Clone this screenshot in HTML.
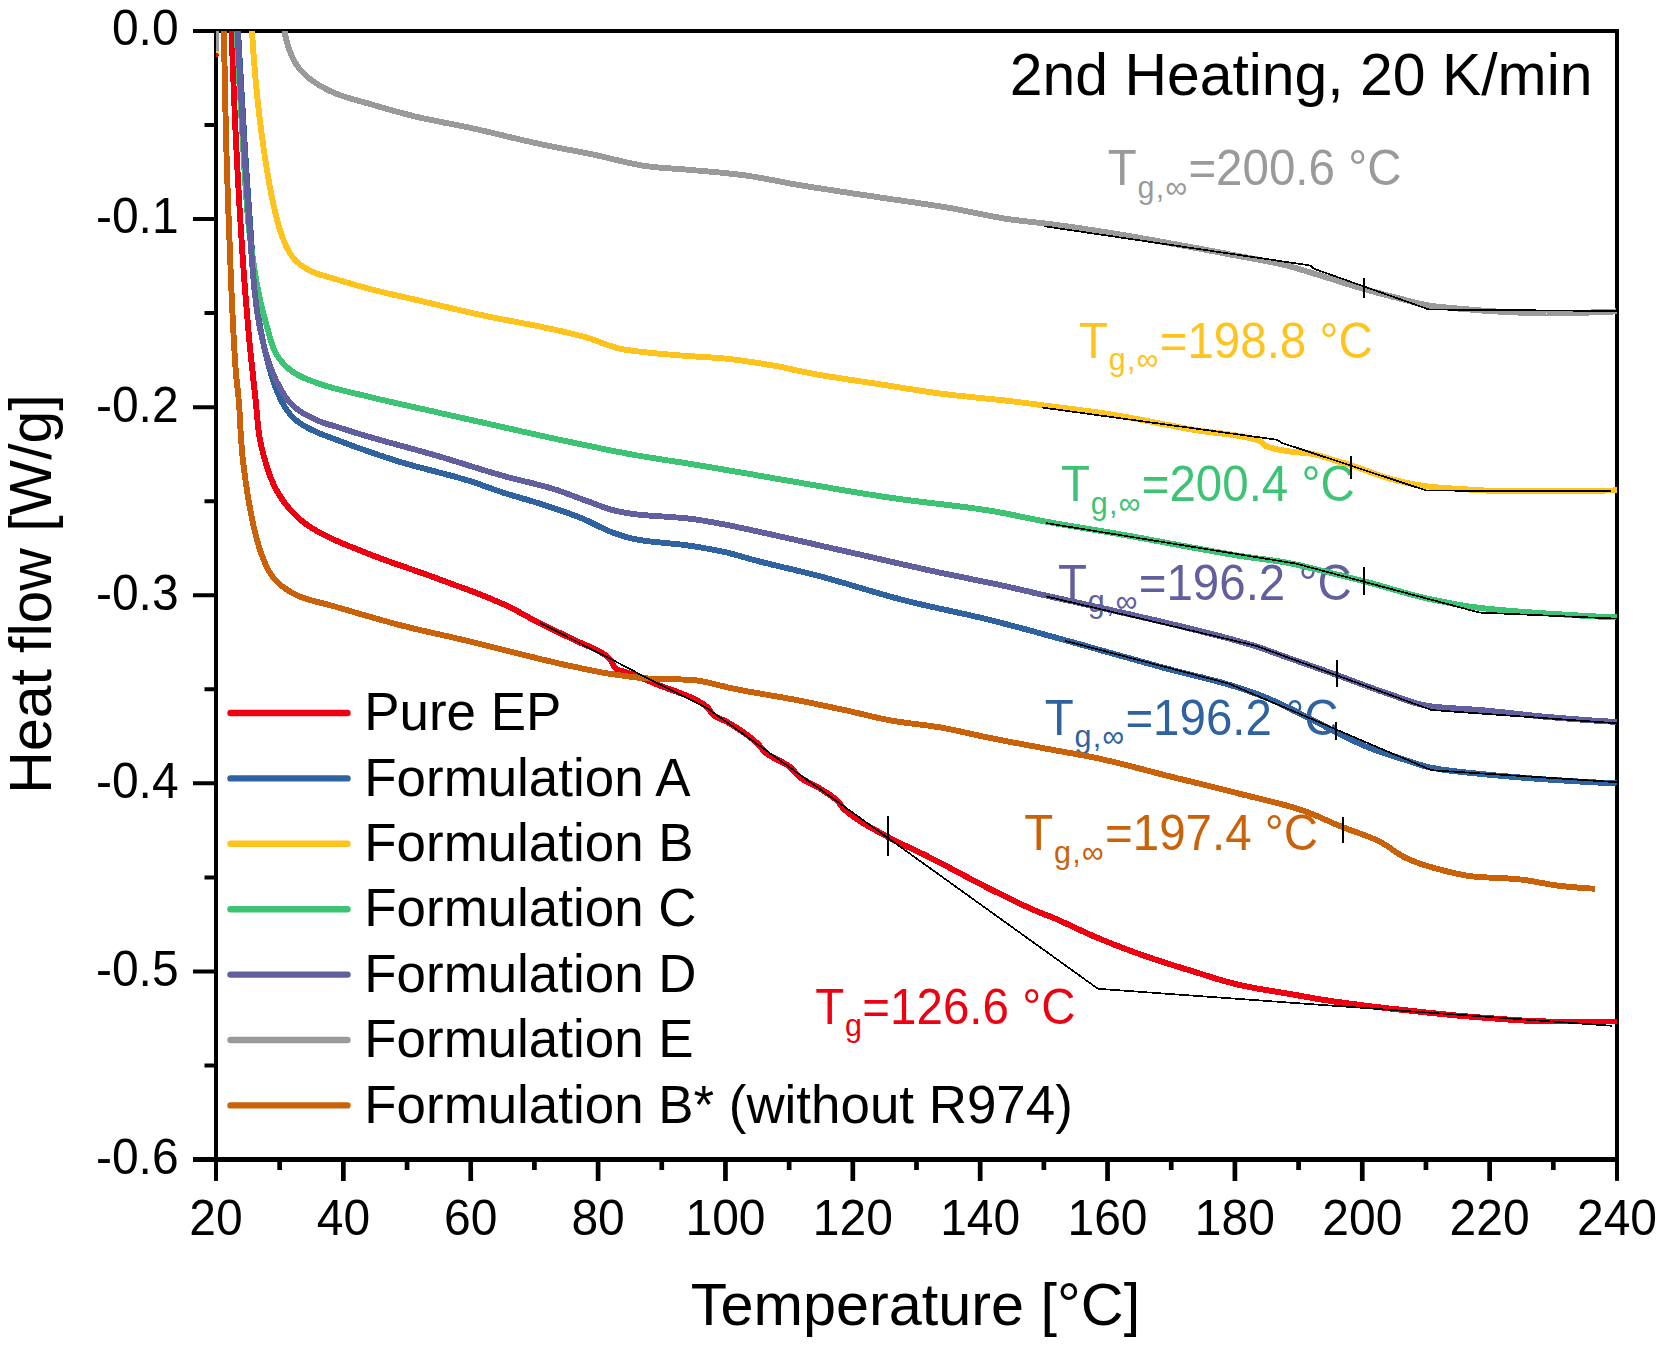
<!DOCTYPE html>
<html lang="en"><head><meta charset="utf-8"><title>DSC 2nd Heating</title>
<style>html,body{margin:0;padding:0;background:#fff}svg{display:block}text{font-family:"Liberation Sans",sans-serif;fill:#000}</style></head><body>
<svg width="1663" height="1354" viewBox="0 0 1663 1354">
<rect width="1663" height="1354" fill="#fff"/>
<defs><clipPath id="plot"><rect x="216.0" y="31.0" width="1401.0" height="1128.5"/></clipPath></defs>
<text transform="translate(1107.7,185.4) scale(1,1.035)" font-size="47.5" style="fill:#9a9a9a">T<tspan font-size="30.5" dy="12" dx="0.8">g</tspan><tspan font-size="30.5" dx="1.3">,</tspan><tspan font-size="30.5" dx="1.2">∞</tspan><tspan dy="-12" dx="1.2">=200.6 °C</tspan></text>
<text transform="translate(1079.0,357.7) scale(1,1.035)" font-size="47.5" style="fill:#ffc31d">T<tspan font-size="30.5" dy="12" dx="0.8">g</tspan><tspan font-size="30.5" dx="1.3">,</tspan><tspan font-size="30.5" dx="1.2">∞</tspan><tspan dy="-12" dx="1.2">=198.8 °C</tspan></text>
<text transform="translate(1061.0,501.3) scale(1,1.035)" font-size="47.5" style="fill:#3cc373">T<tspan font-size="30.5" dy="12" dx="0.8">g</tspan><tspan font-size="30.5" dx="1.3">,</tspan><tspan font-size="30.5" dx="1.2">∞</tspan><tspan dy="-12" dx="1.2">=200.4 °C</tspan></text>
<text transform="translate(1058.0,599.9) scale(1,1.035)" font-size="47.5" style="fill:#625f9e">T<tspan font-size="30.5" dy="12" dx="0.8">g</tspan><tspan font-size="30.5" dx="1.3">,</tspan><tspan font-size="30.5" dx="1.2">∞</tspan><tspan dy="-12" dx="1.2">=196.2 °C</tspan></text>
<text transform="translate(1044.7,735.0) scale(1,1.035)" font-size="47.5" style="fill:#2f639f">T<tspan font-size="30.5" dy="12" dx="0.8">g</tspan><tspan font-size="30.5" dx="1.3">,</tspan><tspan font-size="30.5" dx="1.2">∞</tspan><tspan dy="-12" dx="1.2">=196.2 °C</tspan></text>
<text transform="translate(1024.3,850.2) scale(1,1.035)" font-size="47.5" style="fill:#c96208">T<tspan font-size="30.5" dy="12" dx="0.8">g</tspan><tspan font-size="30.5" dx="1.3">,</tspan><tspan font-size="30.5" dx="1.2">∞</tspan><tspan dy="-12" dx="1.2">=197.4 °C</tspan></text>
<text transform="translate(815.2,1024.0) scale(1,1.035)" font-size="47.5" style="fill:#ee0010">T<tspan font-size="30.5" dy="12" dx="0.8">g</tspan><tspan dy="-12" dx="0.4">=126.6 °C</tspan></text>
<g stroke="#000" stroke-width="4" fill="none" stroke-linecap="butt">
<rect x="216.0" y="31.0" width="1401.0" height="1128.5"/>
<path d="M216.0,31.00 h-23.0 M216.0,125.04 h-11.5 M216.0,219.08 h-23.0 M216.0,313.12 h-11.5 M216.0,407.17 h-23.0 M216.0,501.21 h-11.5 M216.0,595.25 h-23.0 M216.0,689.29 h-11.5 M216.0,783.33 h-23.0 M216.0,877.38 h-11.5 M216.0,971.42 h-23.0 M216.0,1065.46 h-11.5 M216.0,1159.50 h-23.0"/>
<path d="M216.00,1159.5 v21.4"/>
<path d="M1617.00,1159.5 v21.4"/>
<path d="M279.68,1159.5 v10.4 M343.36,1159.5 v21.4 M407.05,1159.5 v10.4 M470.73,1159.5 v21.4 M534.41,1159.5 v10.4 M598.09,1159.5 v21.4 M661.77,1159.5 v10.4 M725.45,1159.5 v21.4 M789.14,1159.5 v10.4 M852.82,1159.5 v21.4 M916.50,1159.5 v10.4 M980.18,1159.5 v21.4 M1043.86,1159.5 v10.4 M1107.55,1159.5 v21.4 M1171.23,1159.5 v10.4 M1234.91,1159.5 v21.4 M1298.59,1159.5 v10.4 M1362.27,1159.5 v21.4 M1425.95,1159.5 v10.4 M1489.64,1159.5 v21.4 M1553.32,1159.5 v10.4" stroke-width="4.7"/>
<path d="M193.0,1159.45 H1619.0" stroke-width="4.9"/>
</g>
<g clip-path="url(#plot)" shape-rendering="crispEdges" fill="none" stroke-width="5.9" stroke-linejoin="round" stroke-linecap="butt">
<path d="M216.6,28 V52" stroke="#9a9a9a" stroke-width="5"/>
<path d="M217.3,50.5 V54" stroke="#ffc31d" stroke-width="3"/>
<path d="M216.4,53.5 L218,56.5" stroke="#ee0010" stroke-width="3"/>
<path d="M231.6,31.0 L231.7,33.0 L231.7,35.0 L231.8,37.0 L231.9,39.0 L231.9,41.0 L232.0,43.0 L232.1,45.0 L232.1,47.0 L232.2,49.0 L232.3,51.0 L232.3,53.0 L232.4,55.0 L232.5,57.0 L232.5,59.0 L232.6,61.0 L232.7,63.0 L232.8,65.1 L232.8,67.1 L232.9,69.1 L233.0,71.1 L233.1,73.1 L233.1,75.1 L233.2,77.1 L233.3,79.1 L233.4,81.1 L233.5,83.1 L233.5,85.1 L233.6,87.1 L233.7,89.1 L233.8,91.1 L233.9,93.1 L234.0,95.1 L234.0,97.1 L234.1,99.1 L234.2,101.1 L234.3,103.1 L234.4,105.1 L234.5,107.1 L234.5,109.1 L234.6,111.1 L234.7,113.1 L234.8,115.1 L234.9,117.1 L235.0,119.1 L235.1,121.1 L235.2,123.1 L235.3,125.1 L235.4,127.1 L235.4,129.1 L235.5,131.1 L235.6,133.1 L235.7,135.1 L235.8,137.1 L235.9,139.1 L236.0,141.1 L236.1,143.1 L236.2,145.1 L236.3,147.1 L236.4,149.1 L236.5,151.1 L236.6,153.1 L236.7,155.1 L236.8,157.1 L236.9,159.2 L237.0,161.2 L237.1,163.2 L237.2,165.2 L237.3,167.2 L237.4,169.2 L237.5,171.2 L237.6,173.2 L237.7,175.2 L237.8,177.2 L237.9,179.2 L238.1,181.2 L238.2,183.2 L238.3,185.2 L238.4,187.2 L238.5,189.2 L238.6,191.2 L238.7,193.2 L238.8,195.2 L239.0,197.2 L239.1,199.2 L239.2,201.2 L239.3,203.2 L239.4,205.2 L239.5,207.2 L239.7,209.2 L239.8,211.2 L239.9,213.2 L240.0,215.2 L240.1,217.2 L240.3,219.2 L240.4,221.2 L240.5,223.2 L240.6,225.2 L240.8,227.2 L240.9,229.2 L241.0,231.2 L241.1,233.2 L241.3,235.2 L241.4,237.2 L241.5,239.2 L241.7,241.2 L241.8,243.2 L241.9,245.2 L242.0,247.2 L242.2,249.2 L242.3,251.2 L242.4,253.2 L242.6,255.2 L242.7,257.2 L242.9,259.2 L243.0,261.2 L243.1,263.2 L243.3,265.2 L243.4,267.2 L243.5,269.2 L243.7,271.2 L243.8,273.2 L244.0,275.2 L244.1,277.2 L244.3,279.2 L244.4,281.2 L244.6,283.2 L244.7,285.2 L244.9,287.2 L245.0,289.2 L245.2,291.2 L245.3,293.2 L245.5,295.2 L245.7,297.2 L245.8,299.2 L246.0,301.2 L246.1,303.2 L246.3,305.1 L246.5,307.1 L246.6,309.1 L246.8,311.1 L247.0,313.1 L247.1,315.1 L247.3,317.1 L247.5,319.1 L247.6,321.1 L247.8,323.1 L248.0,325.1 L248.2,327.1 L248.3,329.1 L248.5,331.1 L248.7,333.1 L248.9,335.1 L249.0,337.1 L249.2,339.1 L249.4,341.1 L249.6,343.1 L249.8,345.1 L250.0,347.1 L250.2,349.1 L250.4,351.1 L250.6,353.1 L250.8,355.0 L251.0,357.0 L251.2,359.0 L251.4,361.0 L251.6,363.0 L251.8,365.0 L252.0,367.0 L252.2,369.0 L252.5,371.0 L252.7,373.0 L252.9,375.0 L253.1,377.0 L253.3,379.0 L253.5,381.0 L253.8,382.9 L254.0,384.9 L254.2,386.9 L254.4,388.9 L254.6,390.9 L254.8,392.9 L255.1,394.9 L255.3,396.9 L255.5,398.9 L255.7,400.9 L255.9,402.9 L256.1,404.9 L256.3,406.9 L256.5,408.9 L256.6,410.9 L256.8,412.9 L257.0,414.9 L257.2,416.9 L257.4,418.9 L257.5,420.9 L257.7,422.9 L257.9,424.9 L258.1,426.8 L258.4,428.8 L258.6,430.8 L258.9,432.8 L259.2,434.8 L259.5,436.7 L259.8,438.7 L260.2,440.7 L260.6,442.7 L261.0,444.6 L261.4,446.6 L261.9,448.5 L262.3,450.5 L262.8,452.5 L263.3,454.4 L263.9,456.4 L264.4,458.3 L265.0,460.2 L265.5,462.1 L266.1,464.1 L266.7,466.0 L267.3,467.9 L267.9,469.8 L268.5,471.7 L269.2,473.6 L269.9,475.5 L270.6,477.4 L271.4,479.2 L272.2,481.1 L273.0,483.0 L273.8,484.8 L274.7,486.6 L275.6,488.4 L276.5,490.1 L277.5,491.8 L278.4,493.5 L279.5,495.2 L280.5,496.9 L281.7,498.6 L282.8,500.3 L284.0,501.9 L285.2,503.6 L286.5,505.2 L287.8,506.8 L289.1,508.4 L290.4,509.9 L291.8,511.4 L293.1,512.9 L294.5,514.3 L295.9,515.7 L297.3,517.0 L298.8,518.4 L300.3,519.6 L301.8,520.9 L303.4,522.1 L305.0,523.3 L306.7,524.5 L308.3,525.7 L310.0,526.8 L311.7,527.9 L313.5,529.0 L315.2,530.0 L316.9,531.0 L318.7,532.0 L320.4,532.9 L322.1,533.9 L323.9,534.8 L325.7,535.7 L327.5,536.6 L329.2,537.4 L331.1,538.3 L332.9,539.1 L334.7,540.0 L336.5,540.8 L338.4,541.6 L340.2,542.4 L342.1,543.2 L343.9,544.0 L345.8,544.7 L347.7,545.5 L349.5,546.3 L351.4,547.0 L353.3,547.8 L355.1,548.5 L357.0,549.3 L358.9,550.0 L360.8,550.7 L362.6,551.5 L364.5,552.2 L366.4,552.9 L368.2,553.7 L370.1,554.4 L371.9,555.2 L373.8,555.9 L375.7,556.6 L377.6,557.3 L379.4,558.0 L381.3,558.7 L383.2,559.4 L385.1,560.1 L387.0,560.8 L388.8,561.4 L390.7,562.1 L392.6,562.8 L394.5,563.4 L396.4,564.1 L398.3,564.8 L400.2,565.4 L402.1,566.1 L404.0,566.8 L405.9,567.4 L407.8,568.1 L409.7,568.7 L411.6,569.4 L413.5,570.0 L415.3,570.7 L417.2,571.4 L419.1,572.0 L421.0,572.7 L422.9,573.4 L424.8,574.0 L426.7,574.7 L428.6,575.4 L430.5,576.1 L432.3,576.8 L434.2,577.5 L436.1,578.1 L438.0,578.8 L439.9,579.5 L441.7,580.2 L443.6,580.9 L445.5,581.6 L447.4,582.3 L449.3,583.0 L451.2,583.7 L453.1,584.4 L454.9,585.1 L456.8,585.7 L458.7,586.4 L460.6,587.1 L462.5,587.8 L464.4,588.5 L466.3,589.2 L468.1,589.9 L470.0,590.6 L471.9,591.3 L473.8,592.0 L475.7,592.7 L477.5,593.5 L479.4,594.2 L481.3,594.9 L483.1,595.6 L485.0,596.4 L486.8,597.1 L488.7,597.9 L490.6,598.6 L492.4,599.4 L494.2,600.2 L496.1,601.0 L497.9,601.7 L499.7,602.5 L501.6,603.4 L503.4,604.2 L505.2,605.0 L507.0,605.9 L508.8,606.7 L510.6,607.6 L512.4,608.5 L514.2,609.5 L515.9,610.4 L517.7,611.3 L519.5,612.3 L521.2,613.2 L523.0,614.2 L524.8,615.2 L526.5,616.1 L528.3,617.1 L530.0,618.1 L531.8,619.0 L533.6,620.0 L535.4,620.9 L537.1,621.8 L538.9,622.7 L540.7,623.7 L542.5,624.5 L544.3,625.4 L546.1,626.3 L547.9,627.2 L549.7,628.1 L551.5,628.9 L553.3,629.8 L555.1,630.7 L556.9,631.6 L558.7,632.4 L560.5,633.3 L562.3,634.2 L564.1,635.1 L565.9,635.9 L567.7,636.8 L569.5,637.7 L571.3,638.6 L573.1,639.5 L575.0,640.4 L576.9,641.2 L578.8,642.1 L580.7,642.9 L582.7,643.7 L584.6,644.5 L586.6,645.4 L588.5,646.2 L590.4,647.1 L592.3,647.9 L594.2,648.8 L596.1,649.7 L597.9,650.6 L599.6,651.6 L601.3,652.6 L603.0,653.6 L604.6,654.6 L606.1,655.8 L607.5,656.9 L608.9,658.1 L610.2,659.4 L611.3,660.9 L612.3,662.8 L613.2,664.8 L614.2,666.7 L615.3,668.1 L616.7,669.1 L618.4,669.9 L620.3,670.6 L622.3,671.2 L624.3,671.8 L626.4,672.4 L628.3,673.0 L630.2,673.8 L632.1,674.5 L633.9,675.2 L635.8,675.9 L637.7,676.6 L639.6,677.3 L641.4,678.1 L643.3,678.8 L645.2,679.6 L647.0,680.3 L648.9,681.0 L650.7,681.8 L652.6,682.6 L654.4,683.3 L656.3,684.1 L658.2,684.9 L660.1,685.6 L662.0,686.3 L663.9,687.1 L665.9,687.8 L667.8,688.5 L669.8,689.2 L671.8,689.9 L673.7,690.6 L675.7,691.3 L677.7,692.1 L679.6,692.8 L681.6,693.5 L683.5,694.3 L685.4,695.0 L687.3,695.8 L689.2,696.6 L691.1,697.4 L692.9,698.3 L694.7,699.2 L696.4,700.1 L698.1,701.0 L699.8,702.0 L701.4,702.9 L703.0,704.0 L704.5,705.1 L706.0,706.2 L707.4,707.3 L708.7,708.7 L709.8,710.4 L710.9,712.2 L712.1,713.9 L713.5,715.2 L715.0,716.3 L716.7,717.2 L718.6,718.1 L720.4,718.9 L722.4,719.7 L724.3,720.5 L726.1,721.4 L727.8,722.4 L729.6,723.4 L731.3,724.5 L733.0,725.5 L734.7,726.6 L736.4,727.6 L738.1,728.7 L739.8,729.9 L741.5,731.0 L743.2,732.1 L744.8,733.3 L746.5,734.5 L748.1,735.7 L749.7,736.9 L751.2,738.1 L752.8,739.4 L754.3,740.7 L755.8,742.0 L757.3,743.3 L758.7,744.7 L760.0,746.2 L761.3,747.8 L762.5,749.4 L763.8,751.0 L765.2,752.3 L766.7,753.6 L768.3,754.7 L770.0,755.8 L771.7,756.8 L773.5,757.7 L775.3,758.7 L777.1,759.6 L779.0,760.5 L780.8,761.4 L782.6,762.3 L784.4,763.3 L786.2,764.3 L787.8,765.4 L789.4,766.5 L790.9,767.8 L792.3,769.2 L793.7,770.7 L795.0,772.3 L796.3,773.8 L797.7,775.3 L799.2,776.6 L800.7,777.8 L802.3,778.9 L804.0,780.0 L805.8,780.9 L807.5,781.9 L809.3,782.8 L811.2,783.7 L813.0,784.6 L814.8,785.5 L816.6,786.5 L818.3,787.5 L820.0,788.5 L821.7,789.6 L823.4,790.7 L825.2,791.8 L826.9,792.9 L828.6,794.0 L830.2,795.1 L831.9,796.3 L833.5,797.5 L835.0,798.8 L836.5,800.1 L837.9,801.4 L839.2,802.9 L840.4,804.6 L841.5,806.3 L842.8,807.8 L844.2,809.1 L845.6,810.5 L847.1,811.7 L848.6,813.0 L850.1,814.2 L851.7,815.4 L853.3,816.6 L854.9,817.8 L856.5,818.9 L858.2,820.0 L859.9,821.1 L861.6,822.2 L863.4,823.3 L865.1,824.3 L866.9,825.3 L868.6,826.4 L870.4,827.4 L872.2,828.4 L874.0,829.4 L875.8,830.3 L877.6,831.3 L879.4,832.3 L881.2,833.3 L883.0,834.2 L884.7,835.2 L886.5,836.2 L888.2,837.1 L890.0,838.1 L891.7,839.0 L893.5,840.0 L895.3,840.9 L897.1,841.8 L898.9,842.7 L900.7,843.5 L902.5,844.4 L904.3,845.3 L906.1,846.1 L907.9,847.0 L909.7,847.8 L911.6,848.7 L913.4,849.5 L915.2,850.4 L917.0,851.2 L918.8,852.1 L920.6,853.0 L922.5,853.8 L924.3,854.7 L926.1,855.6 L927.9,856.5 L929.6,857.4 L931.4,858.3 L933.2,859.2 L935.0,860.1 L936.8,861.0 L938.6,862.0 L940.3,862.9 L942.1,863.8 L943.9,864.8 L945.7,865.7 L947.4,866.6 L949.2,867.6 L951.0,868.5 L952.7,869.5 L954.5,870.4 L956.3,871.3 L958.0,872.3 L959.8,873.2 L961.6,874.2 L963.3,875.1 L965.1,876.1 L966.9,877.0 L968.7,877.9 L970.4,878.9 L972.2,879.8 L974.0,880.7 L975.8,881.7 L977.5,882.6 L979.3,883.5 L981.1,884.4 L982.9,885.4 L984.7,886.3 L986.4,887.2 L988.2,888.1 L990.0,889.0 L991.8,889.9 L993.6,890.8 L995.4,891.7 L997.2,892.5 L999.0,893.4 L1000.8,894.3 L1002.6,895.2 L1004.4,896.1 L1006.2,897.0 L1008.0,897.9 L1009.8,898.8 L1011.6,899.7 L1013.4,900.5 L1015.2,901.4 L1017.0,902.3 L1018.8,903.2 L1020.6,904.0 L1022.4,904.9 L1024.2,905.7 L1026.1,906.5 L1027.9,907.4 L1029.7,908.2 L1031.5,909.0 L1033.4,909.8 L1035.2,910.6 L1037.1,911.4 L1038.9,912.2 L1040.8,912.9 L1042.6,913.6 L1044.5,914.4 L1046.4,915.1 L1048.2,915.8 L1050.1,916.5 L1052.0,917.3 L1053.8,918.0 L1055.7,918.8 L1057.5,919.6 L1059.3,920.4 L1061.2,921.3 L1063.0,922.1 L1064.8,922.9 L1066.6,923.8 L1068.4,924.6 L1070.3,925.5 L1072.1,926.3 L1073.9,927.2 L1075.7,928.0 L1077.5,928.9 L1079.3,929.7 L1081.2,930.6 L1083.0,931.4 L1084.8,932.3 L1086.6,933.1 L1088.4,933.9 L1090.3,934.7 L1092.1,935.6 L1093.9,936.3 L1095.8,937.1 L1097.6,937.9 L1099.5,938.7 L1101.3,939.4 L1103.2,940.2 L1105.0,940.9 L1106.9,941.7 L1108.8,942.4 L1110.6,943.2 L1112.5,943.9 L1114.4,944.7 L1116.2,945.4 L1118.1,946.1 L1120.0,946.8 L1121.8,947.6 L1123.7,948.3 L1125.6,949.0 L1127.5,949.7 L1129.3,950.4 L1131.2,951.1 L1133.1,951.8 L1135.0,952.5 L1136.9,953.2 L1138.8,953.8 L1140.6,954.5 L1142.5,955.2 L1144.4,955.8 L1146.3,956.5 L1148.2,957.1 L1150.1,957.8 L1152.0,958.4 L1153.9,959.1 L1155.8,959.7 L1157.7,960.3 L1159.6,961.0 L1161.5,961.6 L1163.4,962.2 L1165.3,962.8 L1167.2,963.4 L1169.1,964.0 L1171.1,964.6 L1173.0,965.2 L1174.9,965.8 L1176.8,966.4 L1178.7,967.0 L1180.6,967.6 L1182.5,968.2 L1184.5,968.8 L1186.4,969.4 L1188.3,969.9 L1190.2,970.5 L1192.1,971.1 L1194.0,971.7 L1196.0,972.3 L1197.9,972.9 L1199.8,973.5 L1201.7,974.1 L1203.6,974.7 L1205.5,975.3 L1207.5,975.9 L1209.4,976.5 L1211.3,977.1 L1213.2,977.7 L1215.1,978.3 L1217.0,978.9 L1219.0,979.5 L1220.9,980.0 L1222.8,980.6 L1224.7,981.1 L1226.7,981.7 L1228.6,982.2 L1230.5,982.7 L1232.5,983.2 L1234.4,983.7 L1236.3,984.2 L1238.3,984.7 L1240.2,985.1 L1242.2,985.5 L1244.1,986.0 L1246.1,986.4 L1248.1,986.8 L1250.0,987.2 L1252.0,987.5 L1254.0,987.9 L1255.9,988.3 L1257.9,988.6 L1259.9,989.0 L1261.8,989.3 L1263.8,989.6 L1265.8,990.0 L1267.8,990.3 L1269.8,990.6 L1271.7,991.0 L1273.7,991.3 L1275.7,991.6 L1277.7,991.9 L1279.7,992.3 L1281.6,992.6 L1283.6,992.9 L1285.6,993.3 L1287.6,993.6 L1289.6,993.9 L1291.5,994.3 L1293.5,994.6 L1295.5,995.0 L1297.5,995.3 L1299.4,995.7 L1301.4,996.0 L1303.4,996.4 L1305.3,996.7 L1307.3,997.1 L1309.3,997.4 L1311.3,997.8 L1313.2,998.1 L1315.2,998.5 L1317.2,998.8 L1319.2,999.1 L1321.2,999.5 L1323.1,999.8 L1325.1,1000.1 L1327.1,1000.4 L1329.1,1000.7 L1331.0,1001.0 L1333.0,1001.3 L1335.0,1001.6 L1337.0,1001.9 L1339.0,1002.2 L1341.0,1002.4 L1342.9,1002.7 L1344.9,1003.0 L1346.9,1003.3 L1348.9,1003.5 L1350.9,1003.8 L1352.9,1004.0 L1354.9,1004.3 L1356.8,1004.5 L1358.8,1004.8 L1360.8,1005.1 L1362.8,1005.3 L1364.8,1005.5 L1366.8,1005.8 L1368.8,1006.0 L1370.8,1006.3 L1372.8,1006.5 L1374.8,1006.7 L1376.7,1007.0 L1378.7,1007.2 L1380.7,1007.4 L1382.7,1007.7 L1384.7,1007.9 L1386.7,1008.1 L1388.7,1008.4 L1390.7,1008.6 L1392.7,1008.8 L1394.7,1009.0 L1396.7,1009.2 L1398.7,1009.5 L1400.7,1009.7 L1402.6,1009.9 L1404.6,1010.1 L1406.6,1010.3 L1408.6,1010.5 L1410.6,1010.8 L1412.6,1011.0 L1414.6,1011.2 L1416.6,1011.4 L1418.6,1011.6 L1420.6,1011.8 L1422.6,1012.0 L1424.6,1012.3 L1426.6,1012.5 L1428.5,1012.7 L1430.5,1012.9 L1432.5,1013.1 L1434.5,1013.3 L1436.5,1013.5 L1438.5,1013.7 L1440.5,1013.9 L1442.5,1014.1 L1444.5,1014.3 L1446.5,1014.5 L1448.5,1014.7 L1450.5,1014.9 L1452.5,1015.1 L1454.5,1015.3 L1456.5,1015.5 L1458.5,1015.7 L1460.5,1015.9 L1462.5,1016.0 L1464.5,1016.2 L1466.5,1016.4 L1468.5,1016.5 L1470.4,1016.7 L1472.4,1016.9 L1474.4,1017.0 L1476.4,1017.2 L1478.4,1017.3 L1480.4,1017.5 L1482.4,1017.6 L1484.4,1017.8 L1486.4,1017.9 L1488.4,1018.1 L1490.4,1018.2 L1492.4,1018.4 L1494.4,1018.5 L1496.4,1018.7 L1498.4,1018.8 L1500.4,1019.0 L1502.4,1019.1 L1504.4,1019.3 L1506.4,1019.4 L1508.4,1019.6 L1510.4,1019.7 L1512.4,1019.9 L1514.4,1020.0 L1516.4,1020.2 L1518.4,1020.3 L1520.4,1020.4 L1522.4,1020.5 L1524.4,1020.6 L1526.4,1020.8 L1528.4,1020.9 L1530.4,1021.0 L1532.4,1021.1 L1534.4,1021.1 L1536.4,1021.2 L1538.5,1021.3 L1540.5,1021.3 L1542.5,1021.4 L1544.5,1021.4 L1546.5,1021.5 L1548.5,1021.5 L1550.5,1021.5 L1552.5,1021.5 L1554.5,1021.5 L1556.5,1021.5 L1558.5,1021.5 L1560.5,1021.5 L1562.5,1021.5 L1564.5,1021.5 L1566.5,1021.5 L1568.5,1021.5 L1570.5,1021.5 L1572.5,1021.5 L1574.5,1021.5 L1576.5,1021.5 L1578.5,1021.5 L1580.5,1021.5 L1582.5,1021.5 L1584.5,1021.5 L1586.5,1021.5 L1588.5,1021.5 L1590.5,1021.5 L1592.5,1021.5 L1594.5,1021.5 L1596.5,1021.5 L1598.6,1021.5 L1600.6,1021.5 L1602.6,1021.5 L1604.6,1021.5 L1606.6,1021.5 L1608.6,1021.5 L1610.6,1021.5 L1612.6,1021.5 L1614.6,1021.5 L1616.6,1021.5" stroke="#ee0010"/>
<path d="M238.1,31.0 L238.2,33.0 L238.3,35.0 L238.4,37.0 L238.5,39.0 L238.6,41.0 L238.8,43.0 L238.9,45.0 L239.0,47.0 L239.1,49.0 L239.2,51.0 L239.3,53.0 L239.4,55.0 L239.5,57.0 L239.6,59.0 L239.8,61.0 L239.9,63.0 L240.0,65.0 L240.1,67.0 L240.2,69.0 L240.3,71.0 L240.4,73.0 L240.6,75.0 L240.7,77.0 L240.8,79.0 L240.9,81.0 L241.0,83.0 L241.1,85.0 L241.2,87.0 L241.4,89.0 L241.5,91.0 L241.6,93.0 L241.7,95.0 L241.8,97.0 L242.0,99.0 L242.1,101.0 L242.2,103.0 L242.3,105.0 L242.4,107.0 L242.6,109.0 L242.7,111.0 L242.8,113.0 L242.9,115.0 L243.0,117.0 L243.2,119.0 L243.3,121.0 L243.4,123.0 L243.5,125.0 L243.7,127.0 L243.8,129.0 L243.9,131.0 L244.0,133.0 L244.1,135.0 L244.3,137.0 L244.4,139.0 L244.5,141.0 L244.6,143.0 L244.8,145.0 L244.9,147.0 L245.0,149.0 L245.1,151.0 L245.3,153.0 L245.4,155.0 L245.5,157.0 L245.6,159.0 L245.8,161.0 L245.9,163.0 L246.0,165.0 L246.2,167.0 L246.3,169.0 L246.4,171.0 L246.5,173.0 L246.7,175.0 L246.8,177.0 L246.9,179.0 L247.1,181.0 L247.2,183.0 L247.3,185.0 L247.5,187.0 L247.6,189.0 L247.7,191.0 L247.9,193.0 L248.0,195.0 L248.1,197.0 L248.3,199.0 L248.4,201.0 L248.6,203.0 L248.7,205.0 L248.8,207.0 L249.0,209.0 L249.1,211.0 L249.3,213.0 L249.4,215.0 L249.6,217.0 L249.7,219.0 L249.8,221.0 L250.0,223.0 L250.1,225.0 L250.3,227.0 L250.4,229.0 L250.6,231.0 L250.7,233.0 L250.8,235.0 L251.0,237.0 L251.1,239.0 L251.3,241.0 L251.4,243.0 L251.5,245.0 L251.7,247.0 L251.8,249.0 L252.0,251.0 L252.1,253.0 L252.2,255.1 L252.4,257.1 L252.5,259.1 L252.7,261.1 L252.8,263.1 L253.0,265.1 L253.2,267.1 L253.3,269.1 L253.5,271.1 L253.6,273.0 L253.8,275.0 L254.0,277.0 L254.2,279.0 L254.3,281.0 L254.5,283.0 L254.7,285.0 L254.9,287.0 L255.1,289.0 L255.3,291.0 L255.5,293.0 L255.7,295.0 L255.9,297.0 L256.1,299.0 L256.4,300.9 L256.6,302.9 L256.8,304.9 L257.1,306.9 L257.3,308.9 L257.6,310.9 L257.9,312.8 L258.2,314.8 L258.5,316.8 L258.8,318.8 L259.1,320.8 L259.5,322.8 L259.8,324.7 L260.2,326.7 L260.5,328.7 L260.9,330.7 L261.3,332.7 L261.6,334.6 L262.0,336.6 L262.4,338.6 L262.8,340.5 L263.3,342.5 L263.7,344.5 L264.1,346.4 L264.5,348.4 L265.0,350.3 L265.4,352.3 L265.9,354.2 L266.3,356.1 L266.8,358.1 L267.3,360.0 L267.8,362.0 L268.3,363.9 L268.8,365.9 L269.3,367.9 L269.8,369.8 L270.4,371.8 L271.0,373.7 L271.6,375.6 L272.2,377.6 L272.8,379.5 L273.4,381.4 L274.1,383.3 L274.7,385.2 L275.4,387.1 L276.1,389.0 L276.9,390.8 L277.6,392.7 L278.4,394.5 L279.2,396.3 L280.0,398.0 L280.9,399.8 L281.8,401.6 L282.8,403.4 L283.8,405.2 L284.9,407.0 L286.0,408.7 L287.1,410.4 L288.3,412.0 L289.6,413.6 L290.8,415.2 L292.1,416.6 L293.5,417.9 L294.9,419.2 L296.4,420.5 L298.0,421.7 L299.6,422.9 L301.3,424.0 L303.1,425.1 L304.9,426.2 L306.6,427.2 L308.4,428.2 L310.2,429.1 L311.9,430.0 L313.7,430.8 L315.5,431.7 L317.4,432.5 L319.2,433.2 L321.1,434.0 L322.9,434.7 L324.8,435.4 L326.7,436.2 L328.6,436.9 L330.5,437.6 L332.4,438.3 L334.3,439.0 L336.2,439.7 L338.0,440.4 L339.9,441.1 L341.8,441.8 L343.6,442.5 L345.5,443.2 L347.4,443.9 L349.3,444.6 L351.2,445.3 L353.0,446.0 L354.9,446.7 L356.8,447.4 L358.7,448.0 L360.6,448.7 L362.5,449.4 L364.4,450.0 L366.3,450.7 L368.2,451.4 L370.0,452.0 L371.9,452.7 L373.8,453.3 L375.7,454.0 L377.6,454.6 L379.5,455.3 L381.4,455.9 L383.3,456.5 L385.2,457.2 L387.1,457.8 L389.0,458.4 L391.0,459.0 L392.9,459.7 L394.8,460.3 L396.7,460.9 L398.6,461.5 L400.5,462.0 L402.4,462.6 L404.3,463.2 L406.3,463.8 L408.2,464.3 L410.1,464.9 L412.0,465.4 L414.0,465.9 L415.9,466.5 L417.8,467.0 L419.8,467.5 L421.7,468.0 L423.7,468.5 L425.6,469.0 L427.5,469.5 L429.5,470.0 L431.4,470.5 L433.4,471.0 L435.3,471.5 L437.3,472.0 L439.2,472.5 L441.1,473.0 L443.1,473.5 L445.0,474.0 L447.0,474.6 L448.9,475.1 L450.8,475.6 L452.8,476.1 L454.7,476.6 L456.6,477.2 L458.6,477.7 L460.5,478.3 L462.4,478.8 L464.3,479.4 L466.3,480.0 L468.2,480.5 L470.1,481.1 L472.0,481.7 L473.9,482.4 L475.8,483.0 L477.7,483.7 L479.6,484.3 L481.5,485.0 L483.3,485.7 L485.2,486.4 L487.1,487.1 L489.0,487.7 L490.9,488.4 L492.8,489.1 L494.7,489.8 L496.6,490.4 L498.5,491.1 L500.4,491.7 L502.3,492.4 L504.2,493.0 L506.1,493.6 L508.0,494.2 L509.9,494.7 L511.8,495.3 L513.7,495.9 L515.7,496.4 L517.6,497.0 L519.5,497.6 L521.4,498.1 L523.4,498.7 L525.3,499.2 L527.2,499.8 L529.1,500.4 L531.1,500.9 L533.0,501.5 L534.9,502.1 L536.8,502.7 L538.7,503.3 L540.6,504.0 L542.5,504.6 L544.4,505.2 L546.3,505.8 L548.3,506.4 L550.2,507.0 L552.1,507.7 L554.0,508.3 L555.9,508.9 L557.8,509.6 L559.7,510.2 L561.6,510.9 L563.5,511.5 L565.4,512.2 L567.3,512.8 L569.1,513.5 L571.0,514.2 L572.9,514.9 L574.8,515.6 L576.7,516.3 L578.5,517.0 L580.4,517.8 L582.2,518.5 L584.1,519.3 L585.9,520.1 L587.7,520.9 L589.5,521.8 L591.4,522.7 L593.2,523.6 L595.0,524.5 L596.8,525.4 L598.6,526.3 L600.4,527.2 L602.2,528.0 L604.0,528.9 L605.8,529.7 L607.7,530.5 L609.5,531.3 L611.3,532.0 L613.2,532.7 L615.1,533.4 L617.0,534.0 L618.9,534.7 L620.8,535.3 L622.7,535.9 L624.6,536.5 L626.6,537.1 L628.5,537.6 L630.5,538.1 L632.4,538.6 L634.4,539.1 L636.3,539.4 L638.3,539.8 L640.2,540.1 L642.2,540.4 L644.2,540.7 L646.1,541.0 L648.1,541.2 L650.1,541.5 L652.1,541.7 L654.1,541.9 L656.1,542.1 L658.1,542.3 L660.1,542.5 L662.1,542.7 L664.1,542.9 L666.1,543.1 L668.1,543.3 L670.1,543.5 L672.1,543.7 L674.1,543.9 L676.1,544.1 L678.1,544.3 L680.1,544.5 L682.1,544.7 L684.1,545.0 L686.1,545.2 L688.1,545.5 L690.0,545.8 L692.0,546.1 L694.0,546.4 L696.0,546.7 L698.0,547.0 L699.9,547.3 L701.9,547.7 L703.9,548.0 L705.9,548.4 L707.8,548.7 L709.8,549.1 L711.8,549.4 L713.8,549.8 L715.7,550.2 L717.7,550.6 L719.7,551.0 L721.6,551.4 L723.6,551.8 L725.5,552.3 L727.5,552.7 L729.4,553.2 L731.3,553.7 L733.3,554.2 L735.2,554.7 L737.2,555.3 L739.1,555.8 L741.0,556.3 L742.9,556.9 L744.9,557.4 L746.8,558.0 L748.7,558.5 L750.7,559.1 L752.6,559.6 L754.5,560.2 L756.5,560.7 L758.4,561.2 L760.4,561.7 L762.3,562.2 L764.2,562.7 L766.2,563.2 L768.1,563.6 L770.1,564.1 L772.0,564.6 L774.0,565.1 L775.9,565.5 L777.9,566.0 L779.8,566.5 L781.8,566.9 L783.7,567.4 L785.7,567.9 L787.6,568.3 L789.6,568.8 L791.5,569.3 L793.5,569.7 L795.4,570.2 L797.4,570.7 L799.3,571.1 L801.3,571.6 L803.2,572.1 L805.2,572.6 L807.1,573.0 L809.0,573.5 L811.0,574.0 L812.9,574.5 L814.9,575.0 L816.8,575.5 L818.8,576.0 L820.7,576.5 L822.6,577.0 L824.6,577.5 L826.5,578.1 L828.4,578.6 L830.4,579.1 L832.3,579.7 L834.2,580.2 L836.1,580.8 L838.1,581.3 L840.0,581.9 L841.9,582.4 L843.8,583.0 L845.8,583.5 L847.7,584.1 L849.6,584.7 L851.5,585.3 L853.5,585.8 L855.4,586.4 L857.3,587.0 L859.2,587.5 L861.1,588.1 L863.1,588.7 L865.0,589.3 L866.9,589.8 L868.8,590.4 L870.8,591.0 L872.7,591.5 L874.6,592.1 L876.5,592.7 L878.5,593.2 L880.4,593.8 L882.3,594.3 L884.2,594.9 L886.2,595.4 L888.1,596.0 L890.0,596.5 L891.9,597.1 L893.9,597.6 L895.8,598.1 L897.7,598.6 L899.7,599.2 L901.6,599.7 L903.6,600.2 L905.5,600.7 L907.4,601.1 L909.4,601.6 L911.3,602.1 L913.3,602.6 L915.2,603.0 L917.2,603.5 L919.1,604.0 L921.1,604.4 L923.0,604.9 L925.0,605.3 L926.9,605.8 L928.9,606.2 L930.8,606.6 L932.8,607.1 L934.8,607.5 L936.7,607.9 L938.7,608.4 L940.6,608.8 L942.6,609.2 L944.5,609.7 L946.5,610.1 L948.5,610.5 L950.4,611.0 L952.4,611.4 L954.3,611.8 L956.3,612.2 L958.3,612.7 L960.2,613.1 L962.2,613.5 L964.1,614.0 L966.1,614.4 L968.0,614.8 L970.0,615.3 L972.0,615.7 L973.9,616.2 L975.9,616.6 L977.8,617.1 L979.8,617.5 L981.7,618.0 L983.7,618.5 L985.6,618.9 L987.6,619.4 L989.5,619.9 L991.4,620.4 L993.4,620.9 L995.3,621.4 L997.3,621.9 L999.2,622.3 L1001.2,622.8 L1003.1,623.4 L1005.0,623.9 L1007.0,624.4 L1008.9,624.9 L1010.8,625.4 L1012.8,625.9 L1014.7,626.4 L1016.7,626.9 L1018.6,627.4 L1020.5,628.0 L1022.5,628.5 L1024.4,629.0 L1026.3,629.5 L1028.3,630.1 L1030.2,630.6 L1032.1,631.1 L1034.1,631.6 L1036.0,632.2 L1037.9,632.7 L1039.9,633.2 L1041.8,633.8 L1043.7,634.3 L1045.7,634.8 L1047.6,635.4 L1049.5,635.9 L1051.5,636.4 L1053.4,637.0 L1055.3,637.5 L1057.3,638.0 L1059.2,638.6 L1061.1,639.1 L1063.1,639.6 L1065.0,640.2 L1066.9,640.7 L1068.9,641.2 L1070.8,641.8 L1072.7,642.3 L1074.6,642.8 L1076.6,643.4 L1078.5,643.9 L1080.4,644.5 L1082.4,645.0 L1084.3,645.5 L1086.2,646.1 L1088.1,646.6 L1090.1,647.2 L1092.0,647.7 L1093.9,648.3 L1095.9,648.8 L1097.8,649.4 L1099.7,649.9 L1101.6,650.5 L1103.6,651.0 L1105.5,651.5 L1107.4,652.1 L1109.4,652.6 L1111.3,653.2 L1113.2,653.7 L1115.2,654.3 L1117.1,654.8 L1119.0,655.3 L1120.9,655.9 L1122.9,656.4 L1124.8,657.0 L1126.7,657.5 L1128.7,658.0 L1130.6,658.6 L1132.5,659.1 L1134.5,659.7 L1136.4,660.2 L1138.3,660.7 L1140.2,661.3 L1142.2,661.8 L1144.1,662.3 L1146.0,662.9 L1148.0,663.4 L1149.9,664.0 L1151.8,664.5 L1153.8,665.0 L1155.7,665.6 L1157.6,666.1 L1159.6,666.6 L1161.5,667.1 L1163.4,667.7 L1165.4,668.2 L1167.3,668.7 L1169.2,669.2 L1171.2,669.7 L1173.1,670.2 L1175.1,670.7 L1177.0,671.2 L1178.9,671.7 L1180.9,672.2 L1182.8,672.7 L1184.8,673.2 L1186.7,673.7 L1188.7,674.2 L1190.6,674.6 L1192.6,675.1 L1194.5,675.6 L1196.5,676.1 L1198.4,676.6 L1200.4,677.0 L1202.3,677.5 L1204.2,678.0 L1206.2,678.5 L1208.1,679.0 L1210.1,679.5 L1212.0,680.0 L1214.0,680.5 L1215.9,681.0 L1217.8,681.6 L1219.8,682.1 L1221.7,682.6 L1223.6,683.2 L1225.5,683.7 L1227.4,684.3 L1229.4,684.9 L1231.3,685.4 L1233.2,686.0 L1235.1,686.6 L1237.0,687.2 L1238.9,687.8 L1240.8,688.5 L1242.8,689.1 L1244.7,689.7 L1246.6,690.4 L1248.5,691.0 L1250.4,691.7 L1252.2,692.3 L1254.1,693.0 L1256.0,693.7 L1257.9,694.4 L1259.8,695.1 L1261.6,695.8 L1263.5,696.6 L1265.3,697.3 L1267.2,698.1 L1269.0,698.8 L1270.9,699.6 L1272.7,700.4 L1274.5,701.2 L1276.4,702.0 L1278.2,702.9 L1280.0,703.7 L1281.8,704.6 L1283.6,705.4 L1285.4,706.3 L1287.2,707.2 L1289.0,708.0 L1290.8,708.9 L1292.6,709.8 L1294.4,710.7 L1296.2,711.6 L1298.0,712.5 L1299.8,713.5 L1301.6,714.4 L1303.4,715.3 L1305.2,716.2 L1307.0,717.1 L1308.8,718.0 L1310.6,718.9 L1312.3,719.8 L1314.1,720.7 L1315.9,721.6 L1317.7,722.6 L1319.5,723.5 L1321.2,724.5 L1323.0,725.4 L1324.8,726.4 L1326.5,727.3 L1328.3,728.2 L1330.1,729.2 L1331.8,730.1 L1333.6,731.0 L1335.4,731.9 L1337.2,732.8 L1339.0,733.7 L1340.8,734.6 L1342.6,735.5 L1344.4,736.4 L1346.2,737.3 L1348.0,738.2 L1349.8,739.0 L1351.6,739.9 L1353.4,740.8 L1355.2,741.7 L1357.1,742.5 L1358.9,743.3 L1360.7,744.2 L1362.5,745.0 L1364.4,745.8 L1366.2,746.6 L1368.1,747.3 L1369.9,748.1 L1371.8,748.8 L1373.6,749.5 L1375.5,750.2 L1377.4,750.9 L1379.3,751.6 L1381.2,752.2 L1383.1,752.9 L1385.0,753.5 L1386.9,754.1 L1388.8,754.8 L1390.7,755.4 L1392.6,756.0 L1394.5,756.6 L1396.4,757.2 L1398.3,757.8 L1400.3,758.4 L1402.2,759.0 L1404.1,759.6 L1406.0,760.2 L1407.9,760.8 L1409.8,761.4 L1411.7,762.0 L1413.6,762.7 L1415.5,763.3 L1417.5,764.0 L1419.4,764.6 L1421.3,765.2 L1423.2,765.8 L1425.1,766.3 L1427.1,766.8 L1429.0,767.3 L1431.0,767.7 L1432.9,768.1 L1434.9,768.4 L1436.8,768.7 L1438.8,769.1 L1440.8,769.4 L1442.7,769.7 L1444.7,769.9 L1446.7,770.2 L1448.7,770.5 L1450.7,770.7 L1452.7,771.0 L1454.7,771.2 L1456.7,771.4 L1458.7,771.7 L1460.7,771.9 L1462.7,772.1 L1464.7,772.3 L1466.7,772.5 L1468.7,772.7 L1470.7,772.9 L1472.7,773.1 L1474.7,773.3 L1476.7,773.5 L1478.7,773.7 L1480.7,773.9 L1482.7,774.1 L1484.6,774.3 L1486.6,774.5 L1488.6,774.7 L1490.6,774.9 L1492.6,775.1 L1494.6,775.3 L1496.6,775.5 L1498.6,775.6 L1500.6,775.8 L1502.6,776.0 L1504.6,776.2 L1506.6,776.3 L1508.6,776.5 L1510.6,776.7 L1512.6,776.9 L1514.6,777.0 L1516.6,777.2 L1518.6,777.4 L1520.6,777.5 L1522.6,777.7 L1524.6,777.8 L1526.6,778.0 L1528.6,778.1 L1530.6,778.3 L1532.6,778.5 L1534.6,778.6 L1536.6,778.7 L1538.6,778.9 L1540.6,779.0 L1542.6,779.2 L1544.6,779.3 L1546.6,779.5 L1548.6,779.6 L1550.6,779.7 L1552.6,779.9 L1554.6,780.0 L1556.6,780.1 L1558.6,780.2 L1560.6,780.4 L1562.6,780.5 L1564.6,780.6 L1566.6,780.8 L1568.6,780.9 L1570.6,781.0 L1572.6,781.1 L1574.6,781.2 L1576.6,781.4 L1578.6,781.5 L1580.6,781.6 L1582.6,781.7 L1584.6,781.8 L1586.6,781.9 L1588.6,782.0 L1590.6,782.1 L1592.6,782.3 L1594.6,782.4 L1596.6,782.5 L1598.6,782.6 L1600.6,782.7 L1602.6,782.8 L1604.6,782.9 L1606.6,783.0 L1608.6,783.0 L1610.6,783.1 L1612.6,783.2 L1614.6,783.3 L1616.6,783.4" stroke="#2f639f"/>
<path d="M252.0,31.0 L252.1,33.0 L252.2,35.0 L252.4,37.0 L252.5,39.0 L252.6,41.0 L252.7,43.0 L252.9,45.0 L253.0,47.0 L253.1,49.0 L253.3,51.0 L253.4,53.0 L253.6,55.0 L253.7,57.0 L253.9,59.0 L254.0,61.0 L254.2,63.0 L254.4,65.0 L254.5,67.0 L254.7,69.0 L254.9,71.0 L255.0,73.0 L255.2,75.0 L255.4,76.9 L255.5,78.9 L255.7,80.9 L255.9,82.9 L256.1,84.9 L256.3,86.9 L256.5,88.9 L256.7,90.9 L256.9,92.9 L257.1,94.9 L257.3,96.9 L257.5,98.9 L257.7,100.9 L257.9,102.9 L258.1,104.8 L258.3,106.8 L258.6,108.8 L258.8,110.8 L259.0,112.8 L259.3,114.8 L259.5,116.8 L259.7,118.8 L260.0,120.8 L260.2,122.8 L260.5,124.7 L260.7,126.7 L261.0,128.7 L261.2,130.7 L261.5,132.7 L261.8,134.7 L262.0,136.7 L262.3,138.6 L262.6,140.6 L262.8,142.6 L263.1,144.6 L263.4,146.6 L263.6,148.6 L263.9,150.5 L264.2,152.5 L264.5,154.5 L264.8,156.5 L265.1,158.5 L265.4,160.5 L265.7,162.4 L266.0,164.4 L266.3,166.4 L266.7,168.4 L267.0,170.3 L267.3,172.3 L267.7,174.3 L268.0,176.3 L268.3,178.2 L268.7,180.2 L269.0,182.2 L269.4,184.2 L269.7,186.1 L270.1,188.1 L270.5,190.1 L270.9,192.0 L271.2,194.0 L271.6,196.0 L272.0,197.9 L272.4,199.9 L272.8,201.9 L273.3,203.8 L273.7,205.8 L274.1,207.7 L274.6,209.7 L275.0,211.6 L275.5,213.6 L276.0,215.5 L276.5,217.5 L277.0,219.4 L277.5,221.3 L278.1,223.3 L278.6,225.2 L279.2,227.2 L279.7,229.1 L280.3,231.1 L281.0,233.0 L281.6,234.9 L282.3,236.8 L283.0,238.7 L283.7,240.5 L284.4,242.4 L285.2,244.2 L286.0,246.0 L286.8,247.7 L287.8,249.5 L288.8,251.3 L289.8,253.1 L291.0,254.8 L292.2,256.5 L293.4,258.1 L294.7,259.6 L296.0,261.0 L297.4,262.3 L298.9,263.6 L300.4,264.8 L302.1,266.0 L303.8,267.1 L305.6,268.2 L307.4,269.2 L309.2,270.2 L311.0,271.1 L312.8,271.9 L314.6,272.7 L316.4,273.4 L318.3,274.0 L320.2,274.7 L322.1,275.3 L324.0,275.8 L325.9,276.4 L327.9,276.9 L329.9,277.5 L331.8,278.0 L333.8,278.6 L335.7,279.1 L337.6,279.7 L339.5,280.3 L341.4,280.8 L343.4,281.4 L345.3,282.0 L347.2,282.6 L349.1,283.1 L351.0,283.7 L353.0,284.3 L354.9,284.8 L356.8,285.4 L358.7,285.9 L360.7,286.5 L362.6,287.0 L364.5,287.5 L366.5,288.1 L368.4,288.6 L370.3,289.1 L372.3,289.6 L374.2,290.1 L376.2,290.6 L378.1,291.1 L380.0,291.5 L382.0,292.0 L383.9,292.5 L385.9,292.9 L387.8,293.4 L389.8,293.9 L391.7,294.3 L393.7,294.8 L395.6,295.2 L397.6,295.7 L399.5,296.1 L401.5,296.5 L403.4,297.0 L405.4,297.4 L407.4,297.9 L409.3,298.3 L411.3,298.8 L413.2,299.2 L415.2,299.7 L417.1,300.1 L419.1,300.6 L421.0,301.0 L423.0,301.5 L424.9,301.9 L426.9,302.4 L428.8,302.8 L430.8,303.3 L432.7,303.8 L434.7,304.2 L436.6,304.7 L438.6,305.2 L440.5,305.6 L442.5,306.1 L444.4,306.5 L446.4,307.0 L448.3,307.5 L450.3,307.9 L452.2,308.4 L454.2,308.9 L456.1,309.3 L458.1,309.8 L460.0,310.2 L462.0,310.7 L463.9,311.1 L465.9,311.6 L467.8,312.0 L469.8,312.5 L471.7,312.9 L473.7,313.4 L475.6,313.8 L477.6,314.2 L479.5,314.7 L481.5,315.1 L483.5,315.5 L485.4,316.0 L487.4,316.4 L489.3,316.8 L491.3,317.2 L493.3,317.6 L495.2,318.0 L497.2,318.4 L499.1,318.7 L501.1,319.1 L503.1,319.5 L505.0,319.9 L507.0,320.2 L509.0,320.6 L511.0,321.0 L512.9,321.3 L514.9,321.7 L516.9,322.1 L518.8,322.4 L520.8,322.8 L522.8,323.2 L524.7,323.6 L526.7,323.9 L528.7,324.3 L530.6,324.7 L532.6,325.1 L534.6,325.5 L536.5,325.9 L538.5,326.3 L540.5,326.7 L542.4,327.1 L544.4,327.5 L546.3,327.9 L548.3,328.4 L550.2,328.8 L552.2,329.2 L554.2,329.6 L556.1,330.1 L558.1,330.5 L560.0,330.9 L562.0,331.4 L564.0,331.8 L565.9,332.3 L567.9,332.7 L569.8,333.2 L571.8,333.6 L573.7,334.1 L575.6,334.6 L577.6,335.1 L579.5,335.6 L581.5,336.1 L583.4,336.6 L585.3,337.1 L587.2,337.7 L589.2,338.3 L591.1,338.9 L593.0,339.6 L594.9,340.3 L596.8,341.0 L598.7,341.7 L600.6,342.4 L602.4,343.1 L604.3,343.8 L606.2,344.5 L608.1,345.2 L610.0,345.8 L611.9,346.4 L613.8,347.0 L615.7,347.6 L617.7,348.1 L619.6,348.6 L621.5,349.0 L623.5,349.4 L625.4,349.7 L627.4,350.0 L629.3,350.3 L631.3,350.6 L633.3,350.9 L635.2,351.2 L637.2,351.4 L639.2,351.6 L641.2,351.9 L643.2,352.1 L645.2,352.3 L647.2,352.5 L649.2,352.7 L651.2,352.9 L653.2,353.1 L655.2,353.3 L657.2,353.5 L659.2,353.7 L661.2,353.8 L663.2,354.0 L665.2,354.2 L667.2,354.4 L669.2,354.5 L671.2,354.7 L673.2,354.9 L675.2,355.0 L677.2,355.2 L679.2,355.4 L681.2,355.5 L683.2,355.7 L685.2,355.8 L687.2,355.9 L689.2,356.1 L691.2,356.2 L693.2,356.3 L695.2,356.5 L697.2,356.6 L699.2,356.7 L701.2,356.8 L703.2,356.9 L705.2,357.1 L707.2,357.2 L709.2,357.3 L711.2,357.5 L713.2,357.6 L715.2,357.8 L717.2,357.9 L719.2,358.1 L721.2,358.3 L723.2,358.4 L725.2,358.6 L727.2,358.8 L729.1,359.0 L731.1,359.2 L733.1,359.5 L735.1,359.7 L737.1,360.0 L739.1,360.2 L741.1,360.5 L743.1,360.7 L745.0,361.0 L747.0,361.3 L749.0,361.6 L751.0,361.9 L753.0,362.2 L755.0,362.5 L756.9,362.8 L758.9,363.1 L760.9,363.5 L762.9,363.8 L764.8,364.1 L766.8,364.5 L768.8,364.8 L770.8,365.1 L772.7,365.5 L774.7,365.8 L776.7,366.2 L778.7,366.5 L780.6,366.9 L782.6,367.3 L784.5,367.7 L786.5,368.2 L788.5,368.6 L790.4,369.0 L792.4,369.5 L794.3,369.9 L796.3,370.3 L798.2,370.8 L800.2,371.2 L802.2,371.6 L804.1,372.0 L806.1,372.4 L808.0,372.8 L810.0,373.2 L812.0,373.5 L813.9,373.9 L815.9,374.2 L817.9,374.6 L819.9,374.9 L821.8,375.3 L823.8,375.6 L825.8,375.9 L827.8,376.3 L829.7,376.6 L831.7,376.9 L833.7,377.2 L835.7,377.5 L837.7,377.8 L839.6,378.1 L841.6,378.5 L843.6,378.8 L845.6,379.1 L847.6,379.4 L849.5,379.7 L851.5,380.0 L853.5,380.3 L855.5,380.6 L857.5,380.9 L859.4,381.2 L861.4,381.5 L863.4,381.8 L865.4,382.1 L867.4,382.4 L869.3,382.7 L871.3,383.0 L873.3,383.3 L875.3,383.6 L877.3,383.9 L879.2,384.2 L881.2,384.5 L883.2,384.8 L885.2,385.1 L887.2,385.4 L889.1,385.8 L891.1,386.1 L893.1,386.4 L895.1,386.7 L897.0,387.0 L899.0,387.4 L901.0,387.7 L903.0,388.0 L905.0,388.3 L906.9,388.6 L908.9,388.9 L910.9,389.2 L912.9,389.5 L914.9,389.9 L916.8,390.2 L918.8,390.5 L920.8,390.8 L922.8,391.1 L924.8,391.4 L926.7,391.6 L928.7,391.9 L930.7,392.2 L932.7,392.5 L934.7,392.8 L936.7,393.0 L938.6,393.3 L940.6,393.6 L942.6,393.8 L944.6,394.1 L946.6,394.3 L948.6,394.6 L950.6,394.8 L952.5,395.0 L954.5,395.3 L956.5,395.5 L958.5,395.7 L960.5,395.9 L962.5,396.1 L964.5,396.3 L966.5,396.5 L968.5,396.7 L970.5,397.0 L972.5,397.2 L974.4,397.4 L976.4,397.6 L978.4,397.8 L980.4,398.0 L982.4,398.2 L984.4,398.4 L986.4,398.6 L988.4,398.8 L990.4,399.0 L992.4,399.2 L994.4,399.4 L996.4,399.6 L998.4,399.8 L1000.4,400.0 L1002.4,400.2 L1004.3,400.4 L1006.3,400.7 L1008.3,400.9 L1010.3,401.1 L1012.3,401.4 L1014.3,401.6 L1016.3,401.8 L1018.3,402.1 L1020.2,402.3 L1022.2,402.6 L1024.2,402.9 L1026.2,403.1 L1028.2,403.4 L1030.2,403.6 L1032.2,403.9 L1034.2,404.2 L1036.1,404.4 L1038.1,404.7 L1040.1,405.0 L1042.1,405.2 L1044.1,405.5 L1046.1,405.7 L1048.1,406.0 L1050.0,406.3 L1052.0,406.5 L1054.0,406.8 L1056.0,407.0 L1058.0,407.3 L1060.0,407.5 L1062.0,407.8 L1063.9,408.0 L1065.9,408.3 L1067.9,408.5 L1069.9,408.8 L1071.9,409.0 L1073.9,409.3 L1075.9,409.5 L1077.9,409.8 L1079.8,410.0 L1081.8,410.3 L1083.8,410.6 L1085.8,410.8 L1087.8,411.1 L1089.8,411.4 L1091.8,411.6 L1093.7,411.9 L1095.7,412.2 L1097.7,412.5 L1099.7,412.8 L1101.7,413.0 L1103.6,413.3 L1105.6,413.6 L1107.6,413.9 L1109.6,414.3 L1111.6,414.6 L1113.5,414.9 L1115.5,415.2 L1117.5,415.5 L1119.5,415.9 L1121.4,416.2 L1123.4,416.5 L1125.4,416.9 L1127.4,417.2 L1129.3,417.6 L1131.3,417.9 L1133.3,418.3 L1135.2,418.7 L1137.2,419.0 L1139.2,419.4 L1141.2,419.8 L1143.1,420.1 L1145.1,420.5 L1147.1,420.9 L1149.0,421.3 L1151.0,421.7 L1153.0,422.0 L1154.9,422.4 L1156.9,422.8 L1158.8,423.2 L1160.8,423.6 L1162.8,424.0 L1164.7,424.4 L1166.7,424.7 L1168.7,425.1 L1170.6,425.5 L1172.6,425.9 L1174.6,426.3 L1176.5,426.7 L1178.5,427.0 L1180.5,427.4 L1182.4,427.8 L1184.4,428.1 L1186.4,428.5 L1188.4,428.9 L1190.3,429.2 L1192.3,429.6 L1194.3,429.9 L1196.3,430.3 L1198.3,430.6 L1200.3,430.9 L1202.3,431.1 L1204.4,431.4 L1206.4,431.7 L1208.4,431.9 L1210.5,432.2 L1212.6,432.4 L1214.6,432.7 L1216.7,432.9 L1218.7,433.2 L1220.8,433.4 L1222.9,433.6 L1224.9,433.9 L1227.0,434.2 L1229.0,434.4 L1231.0,434.7 L1233.0,435.0 L1235.0,435.3 L1237.0,435.6 L1239.0,435.9 L1241.0,436.2 L1242.9,436.6 L1244.9,437.0 L1246.8,437.4 L1248.7,437.8 L1250.5,438.2 L1252.4,438.7 L1254.2,439.2 L1256.0,439.7 L1257.8,440.3 L1259.5,440.9 L1261.2,441.7 L1262.7,443.1 L1264.2,444.5 L1265.8,445.9 L1267.5,446.7 L1269.3,447.3 L1271.2,447.9 L1273.1,448.4 L1275.0,448.9 L1277.0,449.3 L1279.0,449.7 L1281.0,450.1 L1283.1,450.4 L1285.1,450.8 L1287.1,451.1 L1289.1,451.4 L1291.1,451.6 L1293.1,451.8 L1295.1,452.0 L1297.1,452.2 L1299.1,452.4 L1301.1,452.6 L1303.1,452.8 L1305.1,453.0 L1307.1,453.2 L1309.0,453.4 L1311.0,453.7 L1313.0,454.0 L1314.9,454.4 L1316.8,454.9 L1318.8,455.4 L1320.7,455.9 L1322.6,456.5 L1324.5,457.1 L1326.5,457.7 L1328.4,458.3 L1330.3,459.0 L1332.2,459.6 L1334.1,460.2 L1336.1,460.8 L1338.0,461.3 L1339.9,461.9 L1341.8,462.4 L1343.8,463.0 L1345.7,463.6 L1347.6,464.1 L1349.5,464.7 L1351.4,465.3 L1353.3,465.9 L1355.2,466.6 L1357.1,467.2 L1359.0,467.9 L1360.9,468.6 L1362.8,469.3 L1364.7,470.0 L1366.5,470.7 L1368.4,471.4 L1370.3,472.1 L1372.2,472.8 L1374.0,473.5 L1375.9,474.1 L1377.8,474.8 L1379.7,475.4 L1381.6,476.1 L1383.5,476.7 L1385.4,477.3 L1387.4,477.8 L1389.3,478.4 L1391.2,479.0 L1393.1,479.5 L1395.1,480.1 L1397.0,480.6 L1398.9,481.1 L1400.9,481.5 L1402.8,481.9 L1404.8,482.4 L1406.8,482.8 L1408.7,483.2 L1410.7,483.6 L1412.6,484.0 L1414.6,484.4 L1416.6,484.8 L1418.6,485.1 L1420.5,485.5 L1422.5,485.8 L1424.5,486.0 L1426.5,486.3 L1428.5,486.5 L1430.5,486.7 L1432.4,486.9 L1434.4,487.1 L1436.4,487.3 L1438.4,487.5 L1440.4,487.6 L1442.4,487.8 L1444.4,488.0 L1446.4,488.1 L1448.4,488.2 L1450.4,488.4 L1452.4,488.5 L1454.4,488.6 L1456.4,488.8 L1458.4,488.9 L1460.4,489.0 L1462.4,489.2 L1464.4,489.3 L1466.4,489.4 L1468.4,489.5 L1470.4,489.7 L1472.4,489.8 L1474.4,489.9 L1476.4,490.0 L1478.4,490.2 L1480.4,490.3 L1482.4,490.4 L1484.4,490.5 L1486.4,490.6 L1488.4,490.7 L1490.4,490.7 L1492.4,490.8 L1494.4,490.9 L1496.4,490.9 L1498.4,491.0 L1500.4,491.0 L1502.4,491.0 L1504.4,491.0 L1506.4,491.0 L1508.4,491.0 L1510.4,491.0 L1512.4,491.0 L1514.4,491.0 L1516.5,491.0 L1518.5,491.0 L1520.5,491.0 L1522.5,491.0 L1524.5,491.0 L1526.5,491.0 L1528.5,491.0 L1530.5,491.0 L1532.5,491.0 L1534.5,491.0 L1536.5,491.0 L1538.5,491.0 L1540.5,491.0 L1542.5,491.0 L1544.5,491.0 L1546.5,491.0 L1548.5,491.0 L1550.5,491.0 L1552.5,491.0 L1554.5,490.9 L1556.5,490.9 L1558.5,490.9 L1560.5,490.9 L1562.5,490.9 L1564.5,490.9 L1566.5,490.9 L1568.5,490.9 L1570.5,490.9 L1572.5,490.9 L1574.5,490.9 L1576.5,490.8 L1578.5,490.8 L1580.5,490.8 L1582.5,490.8 L1584.5,490.8 L1586.5,490.8 L1588.5,490.7 L1590.5,490.7 L1592.6,490.7 L1594.6,490.7 L1596.6,490.7 L1598.6,490.6 L1600.6,490.6 L1602.6,490.6 L1604.6,490.6 L1606.6,490.5 L1608.6,490.5 L1610.6,490.5 L1612.6,490.5 L1614.6,490.4 L1616.6,490.4" stroke="#ffc31d"/>
<path d="M236.5,31.0 L236.6,33.0 L236.7,35.0 L236.8,37.0 L236.9,39.0 L237.0,41.0 L237.2,43.0 L237.3,45.0 L237.4,47.0 L237.5,49.0 L237.6,51.0 L237.7,53.0 L237.8,55.0 L237.9,57.0 L238.1,59.0 L238.2,61.0 L238.3,63.0 L238.4,65.0 L238.5,67.0 L238.6,69.0 L238.7,71.0 L238.8,73.0 L239.0,75.0 L239.1,77.0 L239.2,79.0 L239.3,81.0 L239.4,83.0 L239.5,85.0 L239.7,87.0 L239.8,89.0 L239.9,91.0 L240.0,93.0 L240.1,95.0 L240.2,97.0 L240.4,99.0 L240.5,101.1 L240.6,103.1 L240.7,105.1 L240.8,107.1 L241.0,109.1 L241.1,111.1 L241.2,113.1 L241.3,115.1 L241.4,117.1 L241.6,119.1 L241.7,121.1 L241.8,123.1 L241.9,125.1 L242.0,127.1 L242.2,129.1 L242.3,131.1 L242.4,133.1 L242.5,135.1 L242.6,137.1 L242.7,139.1 L242.8,141.1 L242.9,143.1 L243.1,145.1 L243.2,147.1 L243.3,149.1 L243.4,151.1 L243.5,153.1 L243.6,155.1 L243.7,157.1 L243.9,159.1 L244.0,161.1 L244.1,163.1 L244.2,165.1 L244.3,167.1 L244.4,169.1 L244.6,171.1 L244.7,173.1 L244.8,175.1 L244.9,177.1 L245.0,179.1 L245.2,181.1 L245.3,183.1 L245.4,185.1 L245.6,187.1 L245.7,189.1 L245.8,191.1 L246.0,193.1 L246.1,195.1 L246.3,197.1 L246.4,199.1 L246.5,201.1 L246.7,203.1 L246.9,205.1 L247.0,207.1 L247.2,209.1 L247.3,211.1 L247.5,213.1 L247.7,215.1 L247.8,217.1 L248.0,219.1 L248.2,221.1 L248.4,223.1 L248.6,225.1 L248.8,227.1 L249.0,229.1 L249.2,231.0 L249.5,233.0 L249.7,235.0 L250.0,237.0 L250.2,239.0 L250.5,241.0 L250.7,243.0 L251.0,245.0 L251.3,247.0 L251.5,249.0 L251.8,250.9 L252.1,252.9 L252.3,254.9 L252.6,256.9 L252.9,258.9 L253.2,260.9 L253.5,262.8 L253.8,264.8 L254.1,266.8 L254.4,268.8 L254.7,270.8 L255.0,272.8 L255.3,274.7 L255.6,276.7 L256.0,278.7 L256.3,280.7 L256.6,282.7 L257.0,284.6 L257.4,286.6 L257.7,288.6 L258.1,290.5 L258.5,292.5 L258.9,294.5 L259.3,296.4 L259.7,298.4 L260.2,300.3 L260.6,302.3 L261.1,304.2 L261.6,306.2 L262.1,308.1 L262.5,310.1 L263.0,312.0 L263.5,314.0 L264.1,315.9 L264.6,317.8 L265.1,319.8 L265.6,321.7 L266.2,323.6 L266.7,325.6 L267.2,327.6 L267.8,329.5 L268.3,331.5 L268.8,333.5 L269.4,335.5 L270.0,337.5 L270.5,339.4 L271.1,341.4 L271.8,343.3 L272.4,345.2 L273.1,347.1 L273.8,348.9 L274.6,350.6 L275.4,352.4 L276.3,354.0 L277.3,355.7 L278.3,357.3 L279.5,359.0 L280.8,360.6 L282.1,362.2 L283.5,363.8 L285.0,365.3 L286.5,366.7 L288.0,368.1 L289.5,369.4 L291.1,370.6 L292.7,371.8 L294.2,372.8 L295.9,373.8 L297.6,374.8 L299.3,375.7 L301.1,376.6 L302.9,377.5 L304.8,378.3 L306.7,379.1 L308.6,379.9 L310.5,380.6 L312.4,381.3 L314.4,382.0 L316.3,382.7 L318.2,383.4 L320.1,384.0 L322.0,384.7 L323.9,385.3 L325.8,385.9 L327.7,386.4 L329.6,387.0 L331.5,387.6 L333.4,388.1 L335.4,388.6 L337.3,389.1 L339.3,389.6 L341.2,390.1 L343.1,390.6 L345.1,391.1 L347.1,391.6 L349.0,392.0 L351.0,392.5 L352.9,393.0 L354.9,393.4 L356.9,393.9 L358.8,394.3 L360.8,394.8 L362.7,395.3 L364.7,395.7 L366.6,396.2 L368.6,396.7 L370.5,397.1 L372.5,397.6 L374.4,398.1 L376.4,398.5 L378.3,399.0 L380.3,399.5 L382.2,399.9 L384.2,400.4 L386.1,400.8 L388.1,401.3 L390.0,401.7 L392.0,402.2 L394.0,402.6 L395.9,403.1 L397.9,403.5 L399.8,404.0 L401.8,404.4 L403.7,404.8 L405.7,405.3 L407.6,405.7 L409.6,406.1 L411.6,406.6 L413.5,407.0 L415.5,407.5 L417.4,407.9 L419.4,408.3 L421.3,408.8 L423.3,409.2 L425.3,409.6 L427.2,410.1 L429.2,410.5 L431.1,411.0 L433.1,411.4 L435.0,411.8 L437.0,412.3 L439.0,412.7 L440.9,413.2 L442.9,413.6 L444.8,414.0 L446.8,414.5 L448.7,414.9 L450.7,415.4 L452.6,415.8 L454.6,416.3 L456.5,416.7 L458.5,417.1 L460.5,417.6 L462.4,418.0 L464.4,418.5 L466.3,418.9 L468.3,419.4 L470.2,419.8 L472.2,420.2 L474.1,420.7 L476.1,421.1 L478.1,421.6 L480.0,422.0 L482.0,422.4 L483.9,422.9 L485.9,423.3 L487.8,423.8 L489.8,424.2 L491.8,424.6 L493.7,425.1 L495.7,425.5 L497.6,425.9 L499.6,426.4 L501.5,426.8 L503.5,427.3 L505.4,427.7 L507.4,428.1 L509.4,428.6 L511.3,429.0 L513.3,429.5 L515.2,429.9 L517.2,430.3 L519.1,430.8 L521.1,431.2 L523.0,431.7 L525.0,432.1 L527.0,432.5 L528.9,433.0 L530.9,433.4 L532.8,433.9 L534.8,434.3 L536.7,434.7 L538.7,435.2 L540.7,435.6 L542.6,436.1 L544.6,436.5 L546.5,436.9 L548.5,437.4 L550.4,437.8 L552.4,438.2 L554.4,438.6 L556.3,439.1 L558.3,439.5 L560.2,439.9 L562.2,440.3 L564.2,440.8 L566.1,441.2 L568.1,441.6 L570.0,442.0 L572.0,442.4 L574.0,442.8 L575.9,443.2 L577.9,443.7 L579.8,444.1 L581.8,444.5 L583.8,444.9 L585.7,445.3 L587.7,445.7 L589.7,446.1 L591.6,446.5 L593.6,446.9 L595.5,447.3 L597.5,447.7 L599.5,448.1 L601.4,448.5 L603.4,448.9 L605.4,449.3 L607.3,449.7 L609.3,450.1 L611.3,450.5 L613.2,450.9 L615.2,451.3 L617.2,451.7 L619.1,452.1 L621.1,452.4 L623.1,452.8 L625.0,453.2 L627.0,453.6 L629.0,453.9 L631.0,454.3 L632.9,454.6 L634.9,455.0 L636.9,455.4 L638.8,455.7 L640.8,456.0 L642.8,456.4 L644.8,456.7 L646.7,457.0 L648.7,457.4 L650.7,457.7 L652.7,458.0 L654.7,458.3 L656.6,458.6 L658.6,459.0 L660.6,459.3 L662.6,459.6 L664.6,459.9 L666.5,460.2 L668.5,460.5 L670.5,460.8 L672.5,461.1 L674.5,461.4 L676.5,461.7 L678.4,462.0 L680.4,462.3 L682.4,462.6 L684.4,463.0 L686.4,463.3 L688.3,463.6 L690.3,463.9 L692.3,464.2 L694.3,464.5 L696.3,464.9 L698.2,465.2 L700.2,465.5 L702.2,465.9 L704.2,466.2 L706.1,466.5 L708.1,466.9 L710.1,467.2 L712.1,467.5 L714.0,467.9 L716.0,468.2 L718.0,468.5 L720.0,468.9 L722.0,469.2 L723.9,469.6 L725.9,469.9 L727.9,470.2 L729.9,470.6 L731.8,470.9 L733.8,471.3 L735.8,471.6 L737.8,471.9 L739.7,472.3 L741.7,472.6 L743.7,473.0 L745.7,473.3 L747.6,473.7 L749.6,474.0 L751.6,474.3 L753.6,474.7 L755.5,475.0 L757.5,475.4 L759.5,475.7 L761.5,476.1 L763.4,476.4 L765.4,476.7 L767.4,477.1 L769.4,477.4 L771.3,477.8 L773.3,478.1 L775.3,478.5 L777.3,478.8 L779.2,479.1 L781.2,479.5 L783.2,479.8 L785.2,480.2 L787.1,480.5 L789.1,480.8 L791.1,481.2 L793.1,481.5 L795.0,481.9 L797.0,482.2 L799.0,482.5 L801.0,482.9 L802.9,483.2 L804.9,483.6 L806.9,483.9 L808.9,484.3 L810.8,484.6 L812.8,484.9 L814.8,485.3 L816.8,485.6 L818.7,486.0 L820.7,486.3 L822.7,486.7 L824.7,487.0 L826.7,487.3 L828.6,487.7 L830.6,488.0 L832.6,488.4 L834.6,488.7 L836.5,489.0 L838.5,489.4 L840.5,489.7 L842.5,490.0 L844.4,490.4 L846.4,490.7 L848.4,491.0 L850.4,491.4 L852.3,491.7 L854.3,492.0 L856.3,492.4 L858.3,492.7 L860.3,493.0 L862.2,493.3 L864.2,493.7 L866.2,494.0 L868.2,494.3 L870.2,494.6 L872.1,494.9 L874.1,495.2 L876.1,495.5 L878.1,495.8 L880.1,496.2 L882.0,496.5 L884.0,496.8 L886.0,497.1 L888.0,497.4 L890.0,497.6 L891.9,497.9 L893.9,498.2 L895.9,498.5 L897.9,498.8 L899.9,499.1 L901.9,499.3 L903.9,499.6 L905.8,499.9 L907.8,500.1 L909.8,500.4 L911.8,500.6 L913.8,500.9 L915.8,501.1 L917.8,501.4 L919.8,501.6 L921.8,501.9 L923.8,502.1 L925.7,502.3 L927.7,502.6 L929.7,502.8 L931.7,503.1 L933.7,503.3 L935.7,503.5 L937.7,503.8 L939.7,504.0 L941.7,504.2 L943.7,504.5 L945.7,504.7 L947.7,504.9 L949.6,505.2 L951.6,505.4 L953.6,505.7 L955.6,505.9 L957.6,506.2 L959.6,506.4 L961.6,506.7 L963.6,506.9 L965.6,507.2 L967.5,507.4 L969.5,507.7 L971.5,508.0 L973.5,508.3 L975.5,508.5 L977.5,508.8 L979.5,509.1 L981.4,509.4 L983.4,509.7 L985.4,510.0 L987.4,510.3 L989.4,510.6 L991.3,510.9 L993.3,511.3 L995.3,511.6 L997.2,511.9 L999.2,512.3 L1001.2,512.7 L1003.2,513.0 L1005.1,513.4 L1007.1,513.8 L1009.1,514.2 L1011.0,514.6 L1013.0,515.0 L1015.0,515.4 L1016.9,515.8 L1018.9,516.2 L1020.9,516.6 L1022.8,517.0 L1024.8,517.4 L1026.7,517.8 L1028.7,518.2 L1030.7,518.6 L1032.6,519.0 L1034.6,519.4 L1036.6,519.8 L1038.5,520.2 L1040.5,520.6 L1042.5,521.0 L1044.4,521.3 L1046.4,521.7 L1048.4,522.1 L1050.4,522.4 L1052.3,522.8 L1054.3,523.1 L1056.3,523.5 L1058.3,523.8 L1060.2,524.2 L1062.2,524.5 L1064.2,524.8 L1066.2,525.2 L1068.1,525.5 L1070.1,525.9 L1072.1,526.2 L1074.1,526.5 L1076.0,526.9 L1078.0,527.2 L1080.0,527.5 L1082.0,527.8 L1084.0,528.2 L1085.9,528.5 L1087.9,528.8 L1089.9,529.1 L1091.9,529.5 L1093.8,529.8 L1095.8,530.1 L1097.8,530.5 L1099.8,530.8 L1101.8,531.1 L1103.7,531.5 L1105.7,531.8 L1107.7,532.1 L1109.7,532.5 L1111.6,532.8 L1113.6,533.1 L1115.6,533.5 L1117.6,533.8 L1119.5,534.2 L1121.5,534.5 L1123.5,534.9 L1125.5,535.2 L1127.4,535.6 L1129.4,535.9 L1131.4,536.3 L1133.4,536.6 L1135.3,537.0 L1137.3,537.4 L1139.3,537.7 L1141.2,538.1 L1143.2,538.4 L1145.2,538.8 L1147.2,539.2 L1149.1,539.5 L1151.1,539.9 L1153.1,540.3 L1155.0,540.6 L1157.0,541.0 L1159.0,541.4 L1161.0,541.7 L1162.9,542.1 L1164.9,542.5 L1166.9,542.8 L1168.8,543.2 L1170.8,543.6 L1172.8,543.9 L1174.8,544.3 L1176.7,544.6 L1178.7,545.0 L1180.7,545.4 L1182.6,545.7 L1184.6,546.1 L1186.6,546.5 L1188.6,546.8 L1190.5,547.2 L1192.5,547.5 L1194.5,547.9 L1196.4,548.2 L1198.4,548.6 L1200.4,548.9 L1202.4,549.3 L1204.3,549.7 L1206.3,550.0 L1208.3,550.4 L1210.3,550.7 L1212.2,551.1 L1214.2,551.5 L1216.2,551.8 L1218.1,552.2 L1220.1,552.5 L1222.1,552.9 L1224.1,553.2 L1226.0,553.6 L1228.0,553.9 L1230.0,554.2 L1232.0,554.6 L1233.9,554.9 L1235.9,555.2 L1237.9,555.6 L1239.9,555.9 L1241.9,556.2 L1243.8,556.5 L1245.8,556.8 L1247.8,557.1 L1249.8,557.4 L1251.8,557.6 L1253.8,557.9 L1255.8,558.2 L1257.7,558.4 L1259.7,558.7 L1261.7,559.0 L1263.7,559.2 L1265.7,559.5 L1267.7,559.8 L1269.7,560.0 L1271.7,560.3 L1273.7,560.6 L1275.6,560.9 L1277.6,561.2 L1279.6,561.5 L1281.6,561.8 L1283.6,562.1 L1285.5,562.4 L1287.5,562.8 L1289.5,563.1 L1291.4,563.5 L1293.4,563.9 L1295.4,564.4 L1297.3,564.8 L1299.3,565.2 L1301.2,565.7 L1303.2,566.2 L1305.1,566.7 L1307.1,567.1 L1309.0,567.6 L1311.0,568.1 L1312.9,568.6 L1314.9,569.0 L1316.8,569.5 L1318.8,570.0 L1320.7,570.4 L1322.7,570.9 L1324.6,571.4 L1326.6,571.8 L1328.5,572.3 L1330.4,572.8 L1332.4,573.3 L1334.3,573.8 L1336.3,574.3 L1338.2,574.7 L1340.2,575.2 L1342.1,575.7 L1344.1,576.2 L1346.0,576.7 L1347.9,577.2 L1349.9,577.7 L1351.8,578.2 L1353.8,578.7 L1355.7,579.2 L1357.7,579.7 L1359.6,580.2 L1361.5,580.7 L1363.5,581.2 L1365.4,581.7 L1367.4,582.2 L1369.3,582.7 L1371.2,583.2 L1373.2,583.8 L1375.1,584.3 L1377.0,584.8 L1379.0,585.4 L1380.9,585.9 L1382.8,586.5 L1384.8,587.0 L1386.7,587.6 L1388.6,588.1 L1390.5,588.7 L1392.5,589.3 L1394.4,589.8 L1396.3,590.4 L1398.3,590.9 L1400.2,591.5 L1402.1,592.0 L1404.1,592.6 L1406.0,593.1 L1407.9,593.6 L1409.9,594.2 L1411.8,594.7 L1413.7,595.2 L1415.7,595.7 L1417.6,596.2 L1419.5,596.7 L1421.5,597.2 L1423.4,597.6 L1425.4,598.1 L1427.3,598.5 L1429.3,598.9 L1431.2,599.4 L1433.2,599.8 L1435.2,600.2 L1437.1,600.6 L1439.1,601.0 L1441.1,601.4 L1443.0,601.8 L1445.0,602.2 L1447.0,602.6 L1448.9,602.9 L1450.9,603.3 L1452.9,603.7 L1454.9,604.1 L1456.8,604.4 L1458.8,604.8 L1460.8,605.1 L1462.8,605.4 L1464.7,605.8 L1466.7,606.1 L1468.7,606.4 L1470.7,606.7 L1472.7,606.9 L1474.7,607.2 L1476.6,607.5 L1478.6,607.7 L1480.6,607.9 L1482.6,608.2 L1484.6,608.4 L1486.6,608.6 L1488.6,608.8 L1490.6,609.0 L1492.6,609.2 L1494.6,609.4 L1496.5,609.6 L1498.5,609.8 L1500.5,610.0 L1502.5,610.1 L1504.5,610.3 L1506.5,610.5 L1508.5,610.7 L1510.5,610.8 L1512.5,611.0 L1514.5,611.2 L1516.5,611.3 L1518.5,611.5 L1520.5,611.6 L1522.5,611.8 L1524.5,611.9 L1526.5,612.1 L1528.5,612.2 L1530.5,612.4 L1532.5,612.5 L1534.5,612.6 L1536.5,612.8 L1538.5,612.9 L1540.5,613.1 L1542.5,613.2 L1544.5,613.3 L1546.5,613.5 L1548.5,613.6 L1550.5,613.7 L1552.5,613.9 L1554.5,614.0 L1556.5,614.1 L1558.5,614.2 L1560.5,614.4 L1562.5,614.5 L1564.5,614.6 L1566.5,614.8 L1568.5,614.9 L1570.6,615.0 L1572.6,615.1 L1574.6,615.2 L1576.6,615.4 L1578.6,615.5 L1580.6,615.6 L1582.6,615.7 L1584.6,615.8 L1586.6,615.9 L1588.6,616.0 L1590.6,616.1 L1592.6,616.3 L1594.6,616.4 L1596.6,616.5 L1598.6,616.6 L1600.6,616.7 L1602.6,616.8 L1604.6,616.9 L1606.6,617.0 L1608.6,617.0 L1610.6,617.1 L1612.6,617.2 L1614.6,617.3 L1616.6,617.4" stroke="#3cc373"/>
<path d="M237.4,31.0 L237.5,33.0 L237.6,35.0 L237.7,37.0 L237.8,39.0 L237.9,41.0 L238.1,43.0 L238.2,45.0 L238.3,47.0 L238.4,49.0 L238.5,51.0 L238.6,53.0 L238.7,55.0 L238.8,57.0 L238.9,59.0 L239.1,61.0 L239.2,63.0 L239.3,65.0 L239.4,67.0 L239.5,69.0 L239.6,71.0 L239.7,73.0 L239.8,75.0 L240.0,77.0 L240.1,79.0 L240.2,81.0 L240.3,83.0 L240.4,85.0 L240.5,87.0 L240.7,89.0 L240.8,91.0 L240.9,93.0 L241.0,95.0 L241.1,97.0 L241.3,99.0 L241.4,101.0 L241.5,103.0 L241.6,105.0 L241.7,107.0 L241.9,109.0 L242.0,111.0 L242.1,113.0 L242.2,115.0 L242.3,117.0 L242.5,119.0 L242.6,121.0 L242.7,123.0 L242.8,125.0 L242.9,127.0 L243.1,129.0 L243.2,130.9 L243.3,132.9 L243.4,134.9 L243.6,136.9 L243.7,138.9 L243.8,140.9 L243.9,142.9 L244.1,144.9 L244.2,146.9 L244.3,148.9 L244.4,150.9 L244.6,152.9 L244.7,154.9 L244.8,156.9 L244.9,158.9 L245.1,160.9 L245.2,162.9 L245.3,164.9 L245.4,166.9 L245.6,168.9 L245.7,170.9 L245.8,172.9 L246.0,174.9 L246.1,176.9 L246.2,178.9 L246.4,180.9 L246.5,182.9 L246.6,184.9 L246.8,186.9 L246.9,188.9 L247.0,190.9 L247.2,192.9 L247.3,194.9 L247.4,196.9 L247.6,198.9 L247.7,200.9 L247.8,202.9 L248.0,204.9 L248.1,206.9 L248.3,208.9 L248.4,210.9 L248.6,212.9 L248.7,214.9 L248.8,216.9 L249.0,218.9 L249.1,220.9 L249.3,222.9 L249.4,224.9 L249.6,226.9 L249.7,228.9 L249.8,230.9 L250.0,232.9 L250.1,234.9 L250.3,236.9 L250.4,238.9 L250.5,240.9 L250.7,242.9 L250.8,244.9 L251.0,246.9 L251.1,248.9 L251.3,250.9 L251.4,252.9 L251.5,254.9 L251.7,256.9 L251.8,258.9 L252.0,260.9 L252.1,262.9 L252.3,264.9 L252.5,266.9 L252.6,268.9 L252.8,270.9 L252.9,272.8 L253.1,274.8 L253.3,276.8 L253.5,278.8 L253.7,280.8 L253.8,282.8 L254.0,284.8 L254.2,286.8 L254.4,288.8 L254.6,290.8 L254.8,292.8 L255.0,294.7 L255.3,296.7 L255.5,298.7 L255.7,300.7 L256.0,302.7 L256.2,304.7 L256.5,306.6 L256.7,308.6 L257.0,310.6 L257.3,312.6 L257.6,314.6 L257.9,316.6 L258.3,318.5 L258.6,320.5 L259.0,322.5 L259.3,324.5 L259.7,326.5 L260.1,328.4 L260.5,330.4 L260.9,332.4 L261.3,334.4 L261.7,336.3 L262.2,338.3 L262.6,340.2 L263.1,342.2 L263.6,344.1 L264.0,346.1 L264.5,348.0 L265.0,349.9 L265.5,351.8 L266.1,353.7 L266.6,355.6 L267.2,357.6 L267.8,359.5 L268.4,361.4 L269.1,363.3 L269.7,365.2 L270.4,367.1 L271.2,369.0 L271.9,370.9 L272.7,372.7 L273.5,374.6 L274.3,376.4 L275.1,378.3 L276.0,380.1 L276.9,381.9 L277.8,383.7 L278.7,385.4 L279.6,387.2 L280.5,388.9 L281.5,390.6 L282.6,392.4 L283.7,394.1 L284.8,395.9 L286.0,397.6 L287.2,399.2 L288.4,400.8 L289.7,402.3 L291.1,403.8 L292.4,405.1 L293.8,406.4 L295.3,407.6 L296.8,408.8 L298.4,410.0 L300.0,411.1 L301.7,412.3 L303.4,413.3 L305.2,414.4 L307.0,415.4 L308.8,416.3 L310.7,417.3 L312.5,418.2 L314.4,419.1 L316.2,419.9 L318.1,420.7 L319.9,421.5 L321.7,422.2 L323.6,422.8 L325.5,423.5 L327.4,424.1 L329.3,424.7 L331.3,425.2 L333.2,425.8 L335.1,426.3 L337.1,426.9 L339.0,427.5 L340.9,428.1 L342.8,428.7 L344.7,429.3 L346.6,430.0 L348.5,430.6 L350.4,431.2 L352.3,431.8 L354.2,432.4 L356.1,433.0 L358.1,433.6 L360.0,434.2 L361.9,434.7 L363.8,435.3 L365.7,435.9 L367.7,436.4 L369.6,437.0 L371.5,437.5 L373.4,438.1 L375.4,438.6 L377.3,439.2 L379.2,439.7 L381.1,440.2 L383.1,440.8 L385.0,441.3 L386.9,441.9 L388.9,442.4 L390.8,442.9 L392.7,443.5 L394.7,444.0 L396.6,444.5 L398.5,445.0 L400.5,445.6 L402.4,446.1 L404.3,446.6 L406.2,447.2 L408.2,447.7 L410.1,448.2 L412.0,448.8 L414.0,449.3 L415.9,449.8 L417.8,450.4 L419.7,450.9 L421.7,451.5 L423.6,452.0 L425.5,452.5 L427.5,453.1 L429.4,453.6 L431.3,454.2 L433.2,454.7 L435.2,455.2 L437.1,455.8 L439.0,456.4 L440.9,456.9 L442.9,457.5 L444.8,458.1 L446.7,458.7 L448.6,459.2 L450.5,459.8 L452.4,460.4 L454.4,461.0 L456.3,461.6 L458.2,462.2 L460.1,462.8 L462.0,463.4 L463.9,464.0 L465.8,464.6 L467.7,465.2 L469.7,465.8 L471.6,466.4 L473.5,467.0 L475.4,467.6 L477.3,468.2 L479.2,468.7 L481.1,469.3 L483.0,469.9 L485.0,470.5 L486.9,471.1 L488.8,471.7 L490.7,472.2 L492.6,472.8 L494.5,473.4 L496.5,473.9 L498.4,474.5 L500.3,475.0 L502.2,475.6 L504.2,476.1 L506.1,476.7 L508.0,477.2 L510.0,477.7 L511.9,478.2 L513.9,478.7 L515.8,479.2 L517.7,479.7 L519.7,480.1 L521.6,480.6 L523.6,481.1 L525.5,481.6 L527.5,482.0 L529.4,482.5 L531.4,483.0 L533.3,483.5 L535.3,484.0 L537.2,484.5 L539.1,485.0 L541.1,485.5 L543.0,486.0 L544.9,486.5 L546.9,487.1 L548.8,487.6 L550.7,488.2 L552.6,488.7 L554.5,489.3 L556.4,489.9 L558.3,490.5 L560.2,491.2 L562.1,491.8 L564.0,492.5 L565.9,493.2 L567.8,493.9 L569.6,494.6 L571.5,495.3 L573.4,496.0 L575.3,496.7 L577.2,497.4 L579.0,498.1 L580.9,498.8 L582.8,499.5 L584.7,500.2 L586.6,500.8 L588.4,501.5 L590.3,502.2 L592.2,502.9 L594.1,503.7 L596.0,504.4 L597.8,505.1 L599.7,505.8 L601.6,506.5 L603.5,507.2 L605.4,507.9 L607.3,508.5 L609.2,509.1 L611.1,509.7 L613.0,510.2 L614.9,510.6 L616.9,511.0 L618.8,511.5 L620.8,511.9 L622.8,512.2 L624.7,512.6 L626.7,512.9 L628.7,513.3 L630.7,513.6 L632.7,513.9 L634.7,514.1 L636.7,514.4 L638.6,514.6 L640.6,514.8 L642.6,515.0 L644.6,515.2 L646.6,515.4 L648.6,515.5 L650.6,515.7 L652.6,515.8 L654.6,516.0 L656.6,516.1 L658.6,516.3 L660.6,516.4 L662.6,516.5 L664.6,516.6 L666.6,516.8 L668.6,516.9 L670.6,517.0 L672.6,517.2 L674.6,517.3 L676.6,517.5 L678.6,517.6 L680.6,517.8 L682.6,518.0 L684.6,518.1 L686.6,518.3 L688.6,518.6 L690.5,518.8 L692.5,519.0 L694.5,519.3 L696.5,519.6 L698.5,519.9 L700.4,520.2 L702.4,520.5 L704.4,520.8 L706.4,521.2 L708.4,521.5 L710.3,521.9 L712.3,522.2 L714.3,522.6 L716.2,522.9 L718.2,523.3 L720.2,523.7 L722.2,524.0 L724.1,524.4 L726.1,524.8 L728.0,525.1 L730.0,525.5 L732.0,525.9 L733.9,526.3 L735.9,526.7 L737.9,527.2 L739.8,527.6 L741.8,528.0 L743.7,528.4 L745.7,528.9 L747.6,529.3 L749.6,529.7 L751.6,530.1 L753.5,530.6 L755.5,531.0 L757.4,531.4 L759.4,531.9 L761.3,532.3 L763.3,532.7 L765.2,533.1 L767.2,533.6 L769.2,534.0 L771.1,534.4 L773.1,534.9 L775.0,535.3 L777.0,535.7 L778.9,536.2 L780.9,536.6 L782.8,537.0 L784.8,537.5 L786.7,537.9 L788.7,538.4 L790.7,538.8 L792.6,539.2 L794.6,539.7 L796.5,540.1 L798.5,540.6 L800.4,541.0 L802.4,541.5 L804.3,541.9 L806.3,542.3 L808.2,542.8 L810.2,543.2 L812.1,543.7 L814.1,544.1 L816.0,544.6 L818.0,545.0 L819.9,545.5 L821.9,545.9 L823.8,546.4 L825.8,546.8 L827.8,547.2 L829.7,547.7 L831.7,548.1 L833.6,548.6 L835.6,549.0 L837.5,549.5 L839.5,549.9 L841.4,550.3 L843.4,550.8 L845.3,551.2 L847.3,551.7 L849.2,552.1 L851.2,552.6 L853.1,553.0 L855.1,553.5 L857.0,553.9 L859.0,554.3 L860.9,554.8 L862.9,555.2 L864.8,555.7 L866.8,556.1 L868.8,556.6 L870.7,557.0 L872.7,557.5 L874.6,557.9 L876.6,558.4 L878.5,558.8 L880.5,559.3 L882.4,559.7 L884.4,560.2 L886.3,560.6 L888.3,561.1 L890.2,561.5 L892.2,562.0 L894.1,562.4 L896.1,562.9 L898.0,563.3 L900.0,563.8 L901.9,564.2 L903.9,564.7 L905.8,565.1 L907.8,565.5 L909.7,566.0 L911.7,566.4 L913.6,566.9 L915.6,567.3 L917.6,567.7 L919.5,568.2 L921.5,568.6 L923.4,569.0 L925.4,569.5 L927.3,569.9 L929.3,570.3 L931.2,570.8 L933.2,571.2 L935.2,571.6 L937.1,572.0 L939.1,572.5 L941.0,572.9 L943.0,573.3 L944.9,573.7 L946.9,574.1 L948.9,574.5 L950.8,574.9 L952.8,575.3 L954.7,575.7 L956.7,576.1 L958.7,576.5 L960.6,576.9 L962.6,577.3 L964.6,577.7 L966.5,578.1 L968.5,578.5 L970.4,578.9 L972.4,579.3 L974.4,579.7 L976.3,580.1 L978.3,580.5 L980.3,580.9 L982.2,581.3 L984.2,581.7 L986.2,582.1 L988.1,582.5 L990.1,582.9 L992.0,583.3 L994.0,583.7 L996.0,584.1 L997.9,584.5 L999.9,585.0 L1001.8,585.4 L1003.8,585.8 L1005.7,586.3 L1007.7,586.7 L1009.6,587.1 L1011.6,587.6 L1013.5,588.0 L1015.5,588.5 L1017.4,588.9 L1019.4,589.4 L1021.3,589.8 L1023.3,590.3 L1025.2,590.7 L1027.2,591.2 L1029.1,591.6 L1031.1,592.1 L1033.0,592.6 L1035.0,593.0 L1037.0,593.5 L1038.9,593.9 L1040.9,594.4 L1042.8,594.8 L1044.8,595.3 L1046.7,595.7 L1048.7,596.1 L1050.6,596.6 L1052.6,597.0 L1054.5,597.5 L1056.5,597.9 L1058.4,598.3 L1060.4,598.8 L1062.3,599.2 L1064.3,599.7 L1066.2,600.1 L1068.2,600.5 L1070.2,601.0 L1072.1,601.4 L1074.1,601.8 L1076.0,602.3 L1078.0,602.7 L1079.9,603.1 L1081.9,603.6 L1083.8,604.0 L1085.8,604.4 L1087.7,604.9 L1089.7,605.3 L1091.7,605.7 L1093.6,606.2 L1095.6,606.6 L1097.5,607.0 L1099.5,607.5 L1101.4,607.9 L1103.4,608.4 L1105.3,608.8 L1107.3,609.2 L1109.2,609.7 L1111.2,610.1 L1113.1,610.6 L1115.1,611.0 L1117.1,611.5 L1119.0,611.9 L1121.0,612.4 L1122.9,612.8 L1124.9,613.2 L1126.8,613.7 L1128.8,614.1 L1130.7,614.6 L1132.7,615.0 L1134.6,615.5 L1136.6,615.9 L1138.5,616.4 L1140.5,616.8 L1142.4,617.3 L1144.4,617.7 L1146.3,618.2 L1148.3,618.6 L1150.2,619.1 L1152.2,619.5 L1154.1,620.0 L1156.1,620.4 L1158.0,620.9 L1160.0,621.4 L1161.9,621.8 L1163.9,622.3 L1165.8,622.7 L1167.8,623.2 L1169.7,623.7 L1171.7,624.1 L1173.6,624.6 L1175.6,625.1 L1177.5,625.5 L1179.5,626.0 L1181.4,626.5 L1183.3,627.0 L1185.3,627.4 L1187.2,627.9 L1189.2,628.4 L1191.1,628.9 L1193.1,629.4 L1195.0,629.9 L1196.9,630.3 L1198.9,630.8 L1200.8,631.3 L1202.8,631.8 L1204.7,632.3 L1206.7,632.8 L1208.6,633.3 L1210.5,633.8 L1212.5,634.3 L1214.4,634.7 L1216.4,635.2 L1218.3,635.7 L1220.3,636.2 L1222.2,636.7 L1224.1,637.3 L1226.1,637.8 L1228.0,638.3 L1229.9,638.8 L1231.9,639.3 L1233.8,639.9 L1235.7,640.4 L1237.7,640.9 L1239.6,641.5 L1241.5,642.0 L1243.4,642.6 L1245.4,643.1 L1247.3,643.7 L1249.2,644.3 L1251.1,644.8 L1253.0,645.4 L1254.9,646.0 L1256.8,646.6 L1258.7,647.3 L1260.6,647.9 L1262.5,648.6 L1264.4,649.2 L1266.3,649.9 L1268.2,650.6 L1270.1,651.2 L1271.9,651.9 L1273.8,652.6 L1275.7,653.3 L1277.6,654.0 L1279.5,654.7 L1281.4,655.4 L1283.2,656.0 L1285.1,656.7 L1287.0,657.4 L1288.9,658.1 L1290.8,658.7 L1292.7,659.4 L1294.6,660.1 L1296.5,660.7 L1298.3,661.4 L1300.2,662.1 L1302.1,662.7 L1304.0,663.4 L1305.9,664.0 L1307.8,664.7 L1309.7,665.4 L1311.6,666.0 L1313.5,666.7 L1315.3,667.4 L1317.2,668.0 L1319.1,668.7 L1321.0,669.4 L1322.9,670.0 L1324.8,670.7 L1326.7,671.4 L1328.6,672.1 L1330.4,672.7 L1332.3,673.4 L1334.2,674.1 L1336.1,674.7 L1338.0,675.4 L1339.9,676.1 L1341.7,676.8 L1343.6,677.5 L1345.5,678.2 L1347.4,678.9 L1349.3,679.6 L1351.1,680.3 L1353.0,681.0 L1354.9,681.7 L1356.8,682.4 L1358.6,683.1 L1360.5,683.8 L1362.4,684.5 L1364.3,685.3 L1366.1,685.9 L1368.0,686.6 L1369.9,687.3 L1371.8,688.0 L1373.7,688.7 L1375.5,689.4 L1377.4,690.0 L1379.3,690.7 L1381.2,691.3 L1383.1,691.9 L1385.0,692.6 L1386.9,693.2 L1388.8,693.9 L1390.7,694.6 L1392.6,695.2 L1394.5,695.9 L1396.4,696.6 L1398.3,697.3 L1400.2,698.0 L1402.1,698.7 L1404.0,699.3 L1406.0,700.0 L1407.9,700.7 L1409.8,701.3 L1411.7,701.9 L1413.6,702.5 L1415.5,703.1 L1417.5,703.6 L1419.4,704.1 L1421.3,704.6 L1423.3,705.0 L1425.2,705.4 L1427.2,705.8 L1429.1,706.1 L1431.1,706.4 L1433.0,706.6 L1435.0,706.8 L1437.0,707.0 L1438.9,707.2 L1440.9,707.4 L1442.9,707.5 L1444.9,707.7 L1446.9,707.8 L1448.9,708.0 L1450.9,708.1 L1452.9,708.2 L1454.9,708.4 L1456.9,708.5 L1458.9,708.6 L1460.9,708.7 L1462.9,708.9 L1464.9,709.0 L1467.0,709.1 L1469.0,709.2 L1471.0,709.4 L1473.0,709.5 L1475.0,709.6 L1477.0,709.8 L1479.0,710.0 L1481.0,710.1 L1483.0,710.3 L1485.0,710.5 L1487.0,710.7 L1488.9,710.9 L1490.9,711.1 L1492.9,711.3 L1494.9,711.5 L1496.9,711.7 L1498.9,711.9 L1500.9,712.1 L1502.9,712.3 L1504.9,712.5 L1506.9,712.7 L1508.9,712.9 L1510.9,713.1 L1512.8,713.4 L1514.8,713.6 L1516.8,713.8 L1518.8,714.0 L1520.8,714.2 L1522.8,714.4 L1524.8,714.7 L1526.8,714.9 L1528.8,715.1 L1530.8,715.3 L1532.8,715.5 L1534.8,715.7 L1536.7,715.9 L1538.7,716.1 L1540.7,716.3 L1542.7,716.5 L1544.7,716.7 L1546.7,716.9 L1548.7,717.0 L1550.7,717.2 L1552.7,717.4 L1554.7,717.5 L1556.7,717.7 L1558.7,717.9 L1560.7,718.0 L1562.7,718.2 L1564.7,718.4 L1566.7,718.5 L1568.7,718.7 L1570.7,718.8 L1572.6,719.0 L1574.6,719.1 L1576.6,719.3 L1578.6,719.4 L1580.6,719.6 L1582.6,719.7 L1584.6,719.9 L1586.6,720.0 L1588.6,720.2 L1590.6,720.3 L1592.6,720.5 L1594.6,720.6 L1596.6,720.7 L1598.6,720.9 L1600.6,721.0 L1602.6,721.1 L1604.6,721.3 L1606.6,721.4 L1608.6,721.5 L1610.6,721.6 L1612.6,721.8 L1614.6,721.9 L1616.6,722.0" stroke="#625f9e"/>
<path d="M284.5,31.0 L284.8,33.0 L285.2,35.0 L285.6,37.0 L286.1,38.9 L286.6,40.9 L287.1,42.8 L287.7,44.7 L288.3,46.6 L288.9,48.5 L289.6,50.4 L290.2,52.3 L291.0,54.1 L291.8,56.0 L292.6,57.9 L293.5,59.7 L294.5,61.4 L295.5,63.1 L296.5,64.8 L297.6,66.4 L298.9,68.0 L300.1,69.6 L301.5,71.1 L302.9,72.6 L304.3,74.1 L305.8,75.5 L307.3,76.8 L308.8,78.1 L310.4,79.3 L311.9,80.5 L313.5,81.6 L315.2,82.7 L316.9,83.8 L318.6,84.9 L320.3,85.9 L322.1,86.9 L323.9,87.9 L325.7,88.8 L327.5,89.8 L329.3,90.7 L331.2,91.5 L333.0,92.3 L334.8,93.1 L336.7,93.9 L338.5,94.6 L340.4,95.3 L342.2,95.9 L344.1,96.6 L346.0,97.2 L347.9,97.8 L349.9,98.4 L351.8,98.9 L353.7,99.5 L355.7,100.0 L357.6,100.6 L359.6,101.1 L361.5,101.6 L363.4,102.2 L365.4,102.7 L367.3,103.2 L369.3,103.8 L371.2,104.3 L373.1,104.9 L375.0,105.5 L377.0,106.0 L378.9,106.6 L380.8,107.1 L382.7,107.7 L384.7,108.2 L386.6,108.8 L388.5,109.3 L390.4,109.9 L392.4,110.4 L394.3,111.0 L396.2,111.5 L398.2,112.0 L400.1,112.6 L402.0,113.1 L404.0,113.6 L405.9,114.1 L407.9,114.6 L409.8,115.1 L411.7,115.6 L413.7,116.1 L415.6,116.6 L417.6,117.0 L419.5,117.5 L421.5,117.9 L423.4,118.4 L425.4,118.8 L427.3,119.2 L429.3,119.6 L431.3,120.0 L433.2,120.4 L435.2,120.8 L437.1,121.2 L439.1,121.6 L441.1,122.0 L443.0,122.4 L445.0,122.8 L447.0,123.2 L448.9,123.5 L450.9,123.9 L452.9,124.3 L454.8,124.7 L456.8,125.1 L458.8,125.5 L460.7,125.9 L462.7,126.3 L464.7,126.7 L466.6,127.1 L468.6,127.5 L470.6,127.9 L472.5,128.3 L474.5,128.8 L476.4,129.2 L478.4,129.6 L480.3,130.1 L482.3,130.5 L484.2,131.0 L486.2,131.4 L488.1,131.9 L490.1,132.4 L492.0,132.8 L494.0,133.3 L495.9,133.7 L497.9,134.2 L499.8,134.7 L501.8,135.1 L503.7,135.6 L505.7,136.1 L507.6,136.6 L509.6,137.0 L511.5,137.5 L513.5,138.0 L515.4,138.4 L517.4,138.9 L519.3,139.3 L521.3,139.8 L523.2,140.3 L525.2,140.7 L527.1,141.2 L529.1,141.6 L531.0,142.0 L533.0,142.5 L535.0,142.9 L536.9,143.3 L538.9,143.8 L540.8,144.2 L542.8,144.6 L544.7,145.0 L546.7,145.4 L548.7,145.8 L550.6,146.2 L552.6,146.6 L554.6,147.0 L556.5,147.4 L558.5,147.7 L560.5,148.1 L562.4,148.5 L564.4,148.9 L566.4,149.3 L568.3,149.7 L570.3,150.0 L572.3,150.4 L574.2,150.8 L576.2,151.2 L578.2,151.6 L580.1,151.9 L582.1,152.3 L584.1,152.7 L586.0,153.1 L588.0,153.5 L590.0,153.9 L591.9,154.3 L593.9,154.7 L595.8,155.1 L597.8,155.6 L599.8,156.0 L601.7,156.5 L603.7,156.9 L605.6,157.4 L607.6,157.9 L609.5,158.3 L611.5,158.8 L613.4,159.3 L615.4,159.8 L617.4,160.2 L619.3,160.7 L621.3,161.2 L623.2,161.6 L625.2,162.1 L627.1,162.5 L629.1,162.9 L631.1,163.4 L633.0,163.8 L635.0,164.2 L636.9,164.5 L638.9,164.9 L640.9,165.2 L642.8,165.6 L644.8,165.9 L646.8,166.2 L648.8,166.4 L650.7,166.7 L652.7,166.9 L654.7,167.1 L656.7,167.3 L658.7,167.5 L660.7,167.7 L662.7,167.8 L664.7,168.0 L666.7,168.1 L668.7,168.3 L670.7,168.4 L672.7,168.6 L674.7,168.7 L676.7,168.9 L678.7,169.0 L680.7,169.1 L682.7,169.3 L684.7,169.4 L686.7,169.6 L688.7,169.8 L690.7,169.9 L692.7,170.1 L694.7,170.3 L696.7,170.5 L698.7,170.6 L700.7,170.8 L702.7,171.0 L704.7,171.2 L706.7,171.3 L708.6,171.5 L710.6,171.7 L712.6,171.9 L714.6,172.1 L716.6,172.3 L718.6,172.4 L720.6,172.6 L722.6,172.8 L724.6,173.0 L726.6,173.2 L728.6,173.5 L730.6,173.7 L732.6,173.9 L734.6,174.1 L736.6,174.3 L738.5,174.6 L740.5,174.8 L742.5,175.1 L744.5,175.3 L746.5,175.6 L748.5,175.9 L750.4,176.2 L752.4,176.5 L754.4,176.8 L756.4,177.1 L758.3,177.5 L760.3,177.8 L762.3,178.2 L764.3,178.5 L766.2,178.9 L768.2,179.3 L770.2,179.7 L772.1,180.0 L774.1,180.4 L776.1,180.8 L778.0,181.2 L780.0,181.5 L782.0,181.9 L784.0,182.3 L785.9,182.7 L787.9,183.0 L789.9,183.4 L791.8,183.8 L793.8,184.1 L795.8,184.5 L797.8,184.8 L799.7,185.1 L801.7,185.4 L803.7,185.8 L805.7,186.1 L807.7,186.4 L809.6,186.7 L811.6,187.0 L813.6,187.4 L815.6,187.7 L817.5,188.0 L819.5,188.3 L821.5,188.6 L823.5,188.9 L825.5,189.2 L827.4,189.5 L829.4,189.8 L831.4,190.1 L833.4,190.4 L835.4,190.8 L837.3,191.1 L839.3,191.4 L841.3,191.7 L843.3,192.0 L845.3,192.3 L847.2,192.6 L849.2,192.9 L851.2,193.2 L853.2,193.5 L855.2,193.8 L857.2,194.1 L859.1,194.4 L861.1,194.6 L863.1,194.9 L865.1,195.2 L867.1,195.5 L869.0,195.8 L871.0,196.1 L873.0,196.4 L875.0,196.7 L877.0,197.0 L878.9,197.3 L880.9,197.6 L882.9,197.9 L884.9,198.2 L886.9,198.5 L888.9,198.8 L890.8,199.1 L892.8,199.4 L894.8,199.7 L896.8,199.9 L898.8,200.2 L900.8,200.5 L902.7,200.8 L904.7,201.1 L906.7,201.4 L908.7,201.6 L910.7,201.9 L912.7,202.2 L914.6,202.5 L916.6,202.8 L918.6,203.1 L920.6,203.4 L922.6,203.7 L924.6,204.0 L926.5,204.3 L928.5,204.6 L930.5,204.9 L932.5,205.2 L934.5,205.5 L936.4,205.8 L938.4,206.1 L940.4,206.4 L942.4,206.7 L944.3,207.1 L946.3,207.4 L948.3,207.7 L950.3,208.1 L952.2,208.4 L954.2,208.8 L956.2,209.2 L958.1,209.6 L960.1,209.9 L962.1,210.3 L964.0,210.7 L966.0,211.1 L968.0,211.5 L969.9,211.9 L971.9,212.3 L973.9,212.7 L975.8,213.1 L977.8,213.5 L979.8,213.9 L981.7,214.3 L983.7,214.7 L985.7,215.1 L987.6,215.5 L989.6,215.9 L991.6,216.2 L993.5,216.6 L995.5,217.0 L997.5,217.3 L999.5,217.7 L1001.4,218.0 L1003.4,218.3 L1005.4,218.7 L1007.4,219.0 L1009.3,219.3 L1011.3,219.5 L1013.3,219.8 L1015.3,220.1 L1017.3,220.3 L1019.3,220.6 L1021.2,220.8 L1023.2,221.0 L1025.2,221.3 L1027.2,221.5 L1029.2,221.7 L1031.2,221.9 L1033.2,222.1 L1035.2,222.3 L1037.2,222.6 L1039.2,222.8 L1041.2,223.0 L1043.2,223.3 L1045.1,223.5 L1047.1,223.8 L1049.1,224.0 L1051.1,224.3 L1053.1,224.5 L1055.1,224.8 L1057.1,225.1 L1059.0,225.3 L1061.0,225.6 L1063.0,225.9 L1065.0,226.2 L1067.0,226.4 L1069.0,226.7 L1071.0,227.0 L1072.9,227.3 L1074.9,227.5 L1076.9,227.8 L1078.9,228.1 L1080.9,228.4 L1082.9,228.7 L1084.8,229.0 L1086.8,229.3 L1088.8,229.6 L1090.8,229.9 L1092.8,230.2 L1094.7,230.5 L1096.7,230.8 L1098.7,231.1 L1100.7,231.4 L1102.7,231.7 L1104.6,232.0 L1106.6,232.3 L1108.6,232.6 L1110.6,232.9 L1112.6,233.3 L1114.5,233.6 L1116.5,233.9 L1118.5,234.2 L1120.5,234.6 L1122.4,234.9 L1124.4,235.2 L1126.4,235.6 L1128.4,235.9 L1130.3,236.2 L1132.3,236.6 L1134.3,236.9 L1136.3,237.3 L1138.2,237.6 L1140.2,238.0 L1142.2,238.3 L1144.2,238.7 L1146.1,239.0 L1148.1,239.4 L1150.1,239.7 L1152.0,240.1 L1154.0,240.4 L1156.0,240.8 L1158.0,241.1 L1159.9,241.5 L1161.9,241.8 L1163.9,242.2 L1165.9,242.5 L1167.8,242.9 L1169.8,243.2 L1171.8,243.6 L1173.7,244.0 L1175.7,244.3 L1177.7,244.7 L1179.7,245.0 L1181.6,245.4 L1183.6,245.7 L1185.6,246.1 L1187.5,246.5 L1189.5,246.8 L1191.5,247.2 L1193.4,247.5 L1195.4,247.9 L1197.4,248.3 L1199.4,248.6 L1201.3,249.0 L1203.3,249.4 L1205.3,249.7 L1207.2,250.1 L1209.2,250.5 L1211.2,250.8 L1213.1,251.2 L1215.1,251.6 L1217.1,252.0 L1219.1,252.3 L1221.0,252.7 L1223.0,253.1 L1225.0,253.4 L1226.9,253.8 L1228.9,254.2 L1230.9,254.6 L1232.8,254.9 L1234.8,255.3 L1236.8,255.7 L1238.7,256.0 L1240.7,256.4 L1242.7,256.8 L1244.6,257.2 L1246.6,257.5 L1248.6,257.9 L1250.6,258.2 L1252.5,258.6 L1254.5,258.9 L1256.5,259.3 L1258.5,259.7 L1260.4,260.0 L1262.4,260.4 L1264.4,260.7 L1266.4,261.1 L1268.3,261.5 L1270.3,261.9 L1272.3,262.3 L1274.2,262.7 L1276.2,263.1 L1278.1,263.5 L1280.1,263.9 L1282.0,264.4 L1284.0,264.8 L1285.9,265.3 L1287.9,265.8 L1289.8,266.3 L1291.7,266.8 L1293.6,267.4 L1295.6,268.0 L1297.5,268.5 L1299.4,269.1 L1301.3,269.7 L1303.2,270.3 L1305.2,270.9 L1307.1,271.5 L1309.0,272.1 L1310.9,272.7 L1312.8,273.2 L1314.7,273.8 L1316.7,274.4 L1318.6,275.0 L1320.5,275.6 L1322.4,276.2 L1324.3,276.8 L1326.2,277.4 L1328.1,278.0 L1330.1,278.6 L1332.0,279.2 L1333.9,279.8 L1335.8,280.4 L1337.7,281.0 L1339.6,281.6 L1341.5,282.2 L1343.4,282.8 L1345.3,283.4 L1347.3,284.0 L1349.2,284.6 L1351.1,285.2 L1353.0,285.8 L1354.9,286.3 L1356.8,286.9 L1358.8,287.5 L1360.7,288.0 L1362.6,288.6 L1364.5,289.2 L1366.5,289.7 L1368.4,290.2 L1370.3,290.8 L1372.2,291.3 L1374.2,291.9 L1376.1,292.4 L1378.0,292.9 L1380.0,293.4 L1381.9,293.9 L1383.9,294.5 L1385.8,295.0 L1387.7,295.5 L1389.7,296.0 L1391.6,296.5 L1393.6,297.0 L1395.5,297.4 L1397.4,297.9 L1399.4,298.4 L1401.3,299.0 L1403.3,299.5 L1405.2,300.0 L1407.2,300.5 L1409.1,301.0 L1411.0,301.5 L1413.0,302.0 L1414.9,302.5 L1416.9,303.0 L1418.8,303.4 L1420.8,303.9 L1422.8,304.3 L1424.7,304.7 L1426.7,305.0 L1428.6,305.4 L1430.6,305.7 L1432.6,306.0 L1434.6,306.2 L1436.5,306.5 L1438.5,306.7 L1440.5,306.9 L1442.5,307.1 L1444.5,307.3 L1446.5,307.5 L1448.5,307.7 L1450.5,307.9 L1452.5,308.0 L1454.5,308.2 L1456.5,308.4 L1458.5,308.6 L1460.5,308.8 L1462.5,308.9 L1464.5,309.1 L1466.5,309.3 L1468.5,309.4 L1470.5,309.6 L1472.5,309.8 L1474.5,310.0 L1476.5,310.1 L1478.5,310.3 L1480.5,310.4 L1482.5,310.6 L1484.5,310.7 L1486.5,310.9 L1488.5,311.0 L1490.5,311.2 L1492.5,311.3 L1494.5,311.4 L1496.5,311.5 L1498.5,311.6 L1500.5,311.7 L1502.5,311.8 L1504.5,311.9 L1506.5,312.0 L1508.5,312.1 L1510.5,312.2 L1512.5,312.3 L1514.5,312.4 L1516.5,312.5 L1518.5,312.6 L1520.5,312.7 L1522.5,312.8 L1524.5,312.9 L1526.5,312.9 L1528.5,313.0 L1530.5,313.1 L1532.5,313.2 L1534.5,313.2 L1536.5,313.3 L1538.5,313.3 L1540.5,313.4 L1542.5,313.4 L1544.5,313.4 L1546.5,313.5 L1548.5,313.5 L1550.5,313.5 L1552.5,313.5 L1554.5,313.5 L1556.5,313.5 L1558.5,313.4 L1560.5,313.4 L1562.5,313.4 L1564.5,313.3 L1566.5,313.3 L1568.5,313.2 L1570.6,313.2 L1572.6,313.1 L1574.6,313.0 L1576.6,313.0 L1578.6,312.9 L1580.6,312.8 L1582.6,312.8 L1584.6,312.7 L1586.6,312.6 L1588.6,312.6 L1590.6,312.5 L1592.6,312.4 L1594.6,312.4 L1596.6,312.3 L1598.6,312.2 L1600.6,312.1 L1602.6,312.0 L1604.6,312.0 L1606.6,311.9 L1608.6,311.8 L1610.6,311.7 L1612.6,311.6 L1614.6,311.5 L1616.6,311.4" stroke="#9a9a9a"/>
<path d="M224.0,31.0 L224.0,33.0 L224.1,35.0 L224.1,37.0 L224.1,39.0 L224.1,41.0 L224.2,43.0 L224.2,45.0 L224.2,47.0 L224.3,49.0 L224.3,51.0 L224.3,53.0 L224.3,55.0 L224.4,57.0 L224.4,59.1 L224.4,61.1 L224.5,63.1 L224.5,65.1 L224.6,67.1 L224.6,69.1 L224.6,71.1 L224.7,73.1 L224.7,75.1 L224.7,77.1 L224.8,79.1 L224.8,81.1 L224.9,83.1 L224.9,85.1 L224.9,87.1 L225.0,89.1 L225.0,91.1 L225.1,93.1 L225.1,95.1 L225.1,97.1 L225.2,99.1 L225.2,101.1 L225.3,103.1 L225.3,105.1 L225.4,107.1 L225.4,109.1 L225.4,111.1 L225.5,113.1 L225.5,115.2 L225.6,117.2 L225.6,119.2 L225.7,121.2 L225.7,123.2 L225.8,125.2 L225.8,127.2 L225.9,129.2 L225.9,131.2 L226.0,133.2 L226.0,135.2 L226.1,137.2 L226.1,139.2 L226.2,141.2 L226.2,143.2 L226.3,145.2 L226.3,147.2 L226.4,149.2 L226.4,151.2 L226.5,153.2 L226.5,155.2 L226.6,157.2 L226.7,159.2 L226.7,161.2 L226.8,163.2 L226.8,165.2 L226.9,167.2 L226.9,169.2 L227.0,171.2 L227.1,173.2 L227.1,175.2 L227.2,177.2 L227.3,179.3 L227.3,181.3 L227.4,183.3 L227.5,185.3 L227.5,187.3 L227.6,189.3 L227.7,191.3 L227.7,193.3 L227.8,195.3 L227.9,197.3 L227.9,199.3 L228.0,201.3 L228.1,203.3 L228.1,205.3 L228.2,207.3 L228.3,209.3 L228.4,211.3 L228.4,213.3 L228.5,215.3 L228.6,217.3 L228.6,219.3 L228.7,221.3 L228.8,223.3 L228.9,225.3 L228.9,227.3 L229.0,229.3 L229.1,231.3 L229.2,233.3 L229.3,235.3 L229.3,237.3 L229.4,239.3 L229.5,241.3 L229.6,243.3 L229.6,245.3 L229.7,247.3 L229.8,249.3 L229.9,251.3 L230.0,253.4 L230.0,255.4 L230.1,257.4 L230.2,259.4 L230.3,261.4 L230.4,263.4 L230.5,265.4 L230.5,267.4 L230.6,269.4 L230.7,271.4 L230.8,273.4 L230.9,275.4 L230.9,277.4 L231.0,279.4 L231.1,281.4 L231.2,283.4 L231.3,285.4 L231.4,287.4 L231.4,289.4 L231.5,291.4 L231.6,293.4 L231.7,295.4 L231.8,297.4 L231.9,299.4 L232.0,301.4 L232.0,303.4 L232.1,305.4 L232.2,307.4 L232.3,309.4 L232.4,311.4 L232.5,313.4 L232.6,315.4 L232.7,317.4 L232.8,319.4 L232.9,321.4 L233.0,323.4 L233.1,325.4 L233.2,327.4 L233.3,329.4 L233.4,331.4 L233.5,333.4 L233.6,335.4 L233.7,337.4 L233.8,339.4 L233.9,341.5 L234.0,343.5 L234.1,345.5 L234.2,347.5 L234.4,349.5 L234.5,351.5 L234.6,353.5 L234.7,355.5 L234.9,357.4 L235.0,359.4 L235.1,361.4 L235.2,363.4 L235.4,365.4 L235.5,367.4 L235.7,369.4 L235.8,371.4 L236.0,373.4 L236.2,375.4 L236.3,377.4 L236.6,379.4 L236.8,381.4 L237.0,383.4 L237.2,385.4 L237.4,387.4 L237.7,389.4 L237.9,391.4 L238.1,393.4 L238.3,395.4 L238.5,397.4 L238.6,399.3 L238.8,401.3 L239.0,403.3 L239.1,405.3 L239.2,407.3 L239.4,409.3 L239.5,411.3 L239.6,413.3 L239.7,415.3 L239.9,417.3 L240.0,419.3 L240.1,421.3 L240.2,423.4 L240.3,425.4 L240.4,427.4 L240.5,429.4 L240.6,431.4 L240.8,433.4 L240.9,435.4 L241.0,437.4 L241.1,439.4 L241.3,441.4 L241.4,443.4 L241.6,445.4 L241.7,447.3 L241.9,449.3 L242.1,451.3 L242.3,453.3 L242.4,455.3 L242.6,457.3 L242.9,459.3 L243.1,461.3 L243.3,463.3 L243.5,465.3 L243.8,467.3 L244.0,469.3 L244.2,471.3 L244.5,473.3 L244.8,475.2 L245.0,477.2 L245.3,479.2 L245.6,481.2 L245.9,483.2 L246.2,485.2 L246.5,487.2 L246.8,489.2 L247.1,491.1 L247.4,493.1 L247.7,495.1 L248.1,497.1 L248.4,499.0 L248.7,501.0 L249.1,503.0 L249.4,505.0 L249.8,506.9 L250.1,508.9 L250.5,510.9 L250.8,512.8 L251.2,514.8 L251.6,516.8 L252.0,518.7 L252.4,520.7 L252.8,522.7 L253.2,524.7 L253.7,526.6 L254.1,528.6 L254.6,530.6 L255.1,532.5 L255.6,534.5 L256.1,536.4 L256.6,538.4 L257.1,540.3 L257.7,542.2 L258.2,544.1 L258.8,546.0 L259.4,547.9 L260.0,549.8 L260.7,551.7 L261.3,553.6 L262.0,555.5 L262.7,557.4 L263.5,559.3 L264.3,561.2 L265.1,563.2 L266.0,565.1 L266.9,566.9 L267.8,568.8 L268.7,570.6 L269.7,572.3 L270.8,574.0 L271.8,575.6 L272.9,577.1 L274.1,578.6 L275.3,580.0 L276.6,581.4 L278.0,582.7 L279.5,584.1 L281.1,585.4 L282.7,586.7 L284.4,587.9 L286.1,589.1 L287.9,590.3 L289.6,591.4 L291.4,592.4 L293.2,593.4 L295.0,594.3 L296.8,595.1 L298.6,595.9 L300.4,596.7 L302.2,597.4 L304.0,598.0 L305.9,598.7 L307.8,599.3 L309.7,599.8 L311.6,600.4 L313.6,600.9 L315.5,601.5 L317.5,602.0 L319.5,602.5 L321.4,603.0 L323.4,603.5 L325.4,604.0 L327.4,604.5 L329.3,605.0 L331.3,605.5 L333.2,606.1 L335.2,606.6 L337.1,607.2 L339.0,607.8 L340.9,608.3 L342.8,608.9 L344.8,609.4 L346.7,610.0 L348.6,610.6 L350.5,611.1 L352.5,611.7 L354.4,612.3 L356.3,612.8 L358.2,613.4 L360.2,614.0 L362.1,614.5 L364.0,615.1 L365.9,615.6 L367.9,616.2 L369.8,616.8 L371.7,617.3 L373.6,617.9 L375.6,618.4 L377.5,619.0 L379.4,619.5 L381.4,620.0 L383.3,620.6 L385.2,621.1 L387.1,621.6 L389.1,622.2 L391.0,622.7 L392.9,623.2 L394.9,623.7 L396.8,624.3 L398.8,624.8 L400.7,625.3 L402.6,625.8 L404.6,626.3 L406.5,626.7 L408.5,627.2 L410.4,627.7 L412.3,628.2 L414.3,628.7 L416.2,629.1 L418.2,629.6 L420.1,630.0 L422.1,630.5 L424.0,631.0 L426.0,631.4 L427.9,631.9 L429.9,632.3 L431.9,632.7 L433.8,633.2 L435.8,633.6 L437.7,634.1 L439.7,634.5 L441.6,635.0 L443.6,635.4 L445.5,635.8 L447.5,636.3 L449.5,636.7 L451.4,637.2 L453.4,637.6 L455.3,638.1 L457.3,638.5 L459.2,639.0 L461.2,639.4 L463.1,639.9 L465.1,640.4 L467.0,640.8 L469.0,641.3 L470.9,641.8 L472.9,642.2 L474.8,642.7 L476.8,643.2 L478.7,643.7 L480.6,644.2 L482.6,644.6 L484.5,645.1 L486.5,645.6 L488.4,646.1 L490.4,646.6 L492.3,647.1 L494.3,647.6 L496.2,648.1 L498.1,648.6 L500.1,649.0 L502.0,649.5 L504.0,650.0 L505.9,650.5 L507.9,651.0 L509.8,651.5 L511.7,652.0 L513.7,652.4 L515.6,652.9 L517.6,653.4 L519.5,653.9 L521.5,654.4 L523.4,654.8 L525.4,655.3 L527.3,655.8 L529.3,656.3 L531.2,656.8 L533.1,657.2 L535.1,657.7 L537.0,658.2 L539.0,658.7 L540.9,659.2 L542.9,659.6 L544.8,660.1 L546.8,660.6 L548.7,661.1 L550.7,661.5 L552.6,662.0 L554.6,662.4 L556.5,662.9 L558.5,663.3 L560.4,663.8 L562.4,664.2 L564.3,664.7 L566.3,665.1 L568.3,665.5 L570.2,665.9 L572.2,666.4 L574.1,666.8 L576.1,667.2 L578.1,667.6 L580.0,668.1 L582.0,668.5 L583.9,668.9 L585.9,669.3 L587.9,669.7 L589.8,670.1 L591.8,670.5 L593.8,670.9 L595.7,671.3 L597.7,671.7 L599.7,672.0 L601.6,672.4 L603.6,672.7 L605.6,673.1 L607.6,673.4 L609.5,673.7 L611.5,674.0 L613.5,674.3 L615.5,674.6 L617.5,674.9 L619.4,675.2 L621.4,675.5 L623.4,675.8 L625.4,676.1 L627.4,676.4 L629.4,676.6 L631.4,676.9 L633.4,677.1 L635.4,677.3 L637.3,677.6 L639.3,677.8 L641.3,677.9 L643.3,678.1 L645.3,678.2 L647.3,678.4 L649.3,678.5 L651.3,678.6 L653.3,678.6 L655.3,678.7 L657.3,678.8 L659.3,678.9 L661.3,678.9 L663.4,679.0 L665.4,679.0 L667.4,679.1 L669.4,679.1 L671.4,679.2 L673.4,679.2 L675.4,679.3 L677.4,679.4 L679.4,679.4 L681.4,679.5 L683.4,679.6 L685.4,679.7 L687.4,679.8 L689.4,679.9 L691.4,680.0 L693.4,680.1 L695.3,680.3 L697.3,680.6 L699.3,680.9 L701.2,681.2 L703.2,681.5 L705.2,681.9 L707.1,682.3 L709.1,682.8 L711.1,683.2 L713.0,683.7 L715.0,684.2 L716.9,684.7 L718.9,685.2 L720.8,685.7 L722.8,686.1 L724.7,686.6 L726.7,687.1 L728.7,687.6 L730.6,688.1 L732.6,688.5 L734.6,688.9 L736.5,689.3 L738.5,689.7 L740.5,690.1 L742.4,690.4 L744.4,690.8 L746.4,691.1 L748.3,691.5 L750.3,691.8 L752.3,692.2 L754.3,692.5 L756.2,692.9 L758.2,693.2 L760.2,693.6 L762.2,693.9 L764.1,694.3 L766.1,694.6 L768.1,694.9 L770.1,695.3 L772.0,695.6 L774.0,696.0 L776.0,696.3 L778.0,696.7 L779.9,697.0 L781.9,697.4 L783.9,697.7 L785.8,698.1 L787.8,698.4 L789.8,698.8 L791.8,699.2 L793.7,699.5 L795.7,699.9 L797.7,700.3 L799.6,700.7 L801.6,701.1 L803.6,701.4 L805.5,701.8 L807.5,702.2 L809.5,702.6 L811.4,703.0 L813.4,703.4 L815.3,703.8 L817.3,704.3 L819.3,704.7 L821.2,705.1 L823.2,705.5 L825.1,705.9 L827.1,706.3 L829.1,706.7 L831.0,707.2 L833.0,707.6 L834.9,708.0 L836.9,708.4 L838.9,708.8 L840.8,709.3 L842.8,709.7 L844.7,710.1 L846.7,710.5 L848.7,711.0 L850.6,711.4 L852.6,711.9 L854.5,712.3 L856.5,712.8 L858.4,713.2 L860.4,713.7 L862.3,714.2 L864.3,714.6 L866.2,715.1 L868.2,715.6 L870.1,716.0 L872.1,716.5 L874.0,716.9 L876.0,717.4 L878.0,717.8 L879.9,718.2 L881.9,718.7 L883.8,719.1 L885.8,719.5 L887.8,719.9 L889.7,720.2 L891.7,720.6 L893.7,720.9 L895.6,721.2 L897.6,721.6 L899.6,721.9 L901.6,722.1 L903.5,722.4 L905.5,722.7 L907.5,723.0 L909.5,723.2 L911.5,723.5 L913.5,723.7 L915.5,724.0 L917.5,724.2 L919.5,724.5 L921.5,724.7 L923.4,725.0 L925.4,725.3 L927.4,725.5 L929.4,725.8 L931.4,726.1 L933.4,726.4 L935.4,726.7 L937.3,727.0 L939.3,727.3 L941.3,727.6 L943.3,728.0 L945.2,728.3 L947.2,728.7 L949.2,729.1 L951.1,729.5 L953.1,729.9 L955.0,730.3 L957.0,730.7 L959.0,731.1 L960.9,731.6 L962.9,732.0 L964.8,732.4 L966.8,732.9 L968.7,733.3 L970.7,733.8 L972.6,734.2 L974.6,734.7 L976.6,735.1 L978.5,735.5 L980.5,736.0 L982.4,736.4 L984.4,736.8 L986.4,737.2 L988.3,737.6 L990.3,738.0 L992.3,738.4 L994.2,738.8 L996.2,739.2 L998.2,739.6 L1000.1,740.0 L1002.1,740.3 L1004.1,740.7 L1006.0,741.1 L1008.0,741.5 L1010.0,741.9 L1011.9,742.2 L1013.9,742.6 L1015.9,743.0 L1017.8,743.3 L1019.8,743.7 L1021.8,744.1 L1023.7,744.5 L1025.7,744.8 L1027.7,745.2 L1029.7,745.6 L1031.6,745.9 L1033.6,746.3 L1035.6,746.7 L1037.5,747.0 L1039.5,747.4 L1041.5,747.8 L1043.4,748.1 L1045.4,748.5 L1047.4,748.9 L1049.3,749.3 L1051.3,749.6 L1053.3,750.0 L1055.3,750.3 L1057.2,750.7 L1059.2,751.1 L1061.2,751.4 L1063.2,751.8 L1065.1,752.1 L1067.1,752.5 L1069.1,752.8 L1071.0,753.2 L1073.0,753.5 L1075.0,753.9 L1077.0,754.2 L1078.9,754.6 L1080.9,755.0 L1082.9,755.3 L1084.8,755.7 L1086.8,756.1 L1088.8,756.5 L1090.7,756.9 L1092.7,757.3 L1094.7,757.7 L1096.6,758.1 L1098.6,758.5 L1100.5,758.9 L1102.5,759.4 L1104.4,759.8 L1106.4,760.3 L1108.3,760.7 L1110.3,761.2 L1112.2,761.6 L1114.2,762.1 L1116.1,762.6 L1118.1,763.1 L1120.0,763.5 L1122.0,764.0 L1123.9,764.5 L1125.9,765.0 L1127.8,765.5 L1129.7,766.0 L1131.7,766.5 L1133.6,767.0 L1135.6,767.5 L1137.5,768.0 L1139.4,768.5 L1141.4,769.0 L1143.3,769.5 L1145.3,770.0 L1147.2,770.5 L1149.1,771.1 L1151.1,771.6 L1153.0,772.1 L1155.0,772.6 L1156.9,773.1 L1158.8,773.6 L1160.8,774.1 L1162.7,774.6 L1164.7,775.1 L1166.6,775.6 L1168.6,776.0 L1170.5,776.5 L1172.5,777.0 L1174.4,777.5 L1176.3,778.0 L1178.3,778.5 L1180.2,778.9 L1182.2,779.4 L1184.1,779.9 L1186.1,780.4 L1188.0,780.9 L1190.0,781.3 L1191.9,781.8 L1193.8,782.3 L1195.8,782.8 L1197.7,783.3 L1199.7,783.7 L1201.6,784.2 L1203.6,784.7 L1205.5,785.2 L1207.5,785.7 L1209.4,786.2 L1211.4,786.6 L1213.3,787.1 L1215.2,787.6 L1217.2,788.1 L1219.1,788.6 L1221.1,789.1 L1223.0,789.5 L1225.0,790.0 L1226.9,790.5 L1228.9,791.0 L1230.8,791.5 L1232.7,792.0 L1234.7,792.5 L1236.6,793.0 L1238.6,793.5 L1240.5,794.0 L1242.4,794.5 L1244.4,795.0 L1246.3,795.4 L1248.3,795.9 L1250.2,796.4 L1252.2,796.9 L1254.1,797.4 L1256.1,797.8 L1258.0,798.3 L1260.0,798.8 L1262.0,799.3 L1263.9,799.7 L1265.9,800.2 L1267.8,800.7 L1269.8,801.2 L1271.7,801.6 L1273.7,802.1 L1275.6,802.6 L1277.5,803.1 L1279.5,803.6 L1281.4,804.1 L1283.4,804.7 L1285.3,805.2 L1287.2,805.7 L1289.1,806.3 L1291.1,806.8 L1293.0,807.4 L1294.9,808.0 L1296.8,808.6 L1298.7,809.2 L1300.6,809.8 L1302.5,810.4 L1304.4,811.0 L1306.2,811.7 L1308.1,812.4 L1310.0,813.2 L1311.8,813.9 L1313.7,814.6 L1315.5,815.4 L1317.4,816.2 L1319.2,817.0 L1321.1,817.8 L1322.9,818.6 L1324.7,819.4 L1326.6,820.2 L1328.4,821.0 L1330.3,821.9 L1332.1,822.7 L1333.9,823.5 L1335.8,824.3 L1337.6,825.0 L1339.5,825.8 L1341.3,826.6 L1343.2,827.3 L1345.1,828.0 L1346.9,828.8 L1348.8,829.5 L1350.7,830.2 L1352.6,830.8 L1354.5,831.5 L1356.4,832.2 L1358.3,832.9 L1360.2,833.6 L1362.1,834.3 L1364.0,834.9 L1365.9,835.7 L1367.7,836.4 L1369.6,837.1 L1371.4,837.9 L1373.3,838.6 L1375.1,839.4 L1376.9,840.2 L1378.7,841.1 L1380.5,842.0 L1382.2,843.0 L1383.9,844.0 L1385.6,845.0 L1387.3,846.1 L1389.0,847.3 L1390.7,848.4 L1392.3,849.6 L1394.0,850.7 L1395.7,851.9 L1397.4,853.0 L1399.1,854.1 L1400.8,855.1 L1402.5,856.1 L1404.2,857.1 L1406.0,858.0 L1407.8,858.8 L1409.6,859.6 L1411.4,860.4 L1413.3,861.1 L1415.1,861.8 L1417.0,862.5 L1418.9,863.2 L1420.8,863.9 L1422.7,864.5 L1424.7,865.1 L1426.6,865.7 L1428.5,866.3 L1430.4,866.9 L1432.4,867.5 L1434.3,868.0 L1436.2,868.5 L1438.2,869.0 L1440.1,869.5 L1442.0,870.0 L1444.0,870.6 L1445.9,871.1 L1447.9,871.6 L1449.8,872.0 L1451.8,872.5 L1453.8,873.0 L1455.7,873.4 L1457.7,873.9 L1459.7,874.3 L1461.6,874.7 L1463.6,875.1 L1465.6,875.4 L1467.6,875.7 L1469.5,876.0 L1471.5,876.3 L1473.5,876.5 L1475.5,876.7 L1477.5,876.8 L1479.4,877.0 L1481.4,877.1 L1483.4,877.3 L1485.4,877.4 L1487.4,877.5 L1489.4,877.6 L1491.4,877.7 L1493.4,877.8 L1495.5,877.9 L1497.5,877.9 L1499.5,878.0 L1501.5,878.1 L1503.5,878.2 L1505.5,878.3 L1507.5,878.4 L1509.5,878.6 L1511.5,878.7 L1513.5,878.8 L1515.5,879.0 L1517.5,879.2 L1519.5,879.4 L1521.5,879.6 L1523.4,879.9 L1525.4,880.1 L1527.4,880.4 L1529.4,880.8 L1531.4,881.1 L1533.3,881.4 L1535.3,881.8 L1537.3,882.1 L1539.3,882.5 L1541.2,882.8 L1543.2,883.2 L1545.2,883.6 L1547.2,883.9 L1549.2,884.3 L1551.1,884.6 L1553.1,884.9 L1555.1,885.2 L1557.1,885.5 L1559.1,885.8 L1561.0,886.0 L1563.0,886.2 L1565.0,886.4 L1567.0,886.6 L1569.0,886.8 L1571.0,887.0 L1573.0,887.2 L1575.0,887.3 L1577.0,887.5 L1579.0,887.7 L1581.0,887.8 L1583.0,888.0 L1585.0,888.1 L1587.0,888.2 L1589.0,888.4 L1591.0,888.5 L1593.0,888.6 L1595.0,888.7" stroke="#c96208"/>
</g>
<g fill="none" stroke="#000" stroke-width="1.7" stroke-linejoin="miter" shape-rendering="crispEdges">
<path d="M1044.5,226.3 L1310.3,265.5 L1313.5,268.6 L1429.0,309.5 L1616.6,311.0"/>
<path d="M1042.0,407.5 L1276.6,439.7 L1282.2,443.0 L1426.6,490.6 L1610.6,491.0"/>
<path d="M1045.7,523.0 L1296.0,563.6 L1479.5,612.6 L1616.6,618.6"/>
<path d="M1045.7,596.3 L1256.0,645.8 L1431.4,710.0 L1616.6,723.3"/>
<path d="M1065.0,640.8 L1228.5,683.5 L1431.4,770.2 L1616.6,782.2"/>
<path d="M540.0,623.0 L610.0,658.5 L639.0,673.8 L707.0,708.0 L1098.0,988.8 L1611.8,1025.8"/>
<path d="M1364,277.5 V297.5" stroke-width="2"/>
<path d="M1350.8,456.2 V479" stroke-width="2"/>
<path d="M1364,567 V594.5" stroke-width="2"/>
<path d="M1336.9,660 V687" stroke-width="2"/>
<path d="M1336,721.5 V740" stroke-width="2"/>
<path d="M1343,816.5 V842.5" stroke-width="2"/>
<path d="M888,816.4 V855.6" stroke-width="2"/>
</g>
<g font-size="48.0">
<text transform="translate(216.0,1234.9) scale(1,1.035)" text-anchor="middle">20</text>
<text transform="translate(343.4,1234.9) scale(1,1.035)" text-anchor="middle">40</text>
<text transform="translate(470.7,1234.9) scale(1,1.035)" text-anchor="middle">60</text>
<text transform="translate(598.1,1234.9) scale(1,1.035)" text-anchor="middle">80</text>
<text transform="translate(725.5,1234.9) scale(1,1.035)" text-anchor="middle">100</text>
<text transform="translate(852.8,1234.9) scale(1,1.035)" text-anchor="middle">120</text>
<text transform="translate(980.2,1234.9) scale(1,1.035)" text-anchor="middle">140</text>
<text transform="translate(1107.5,1234.9) scale(1,1.035)" text-anchor="middle">160</text>
<text transform="translate(1234.9,1234.9) scale(1,1.035)" text-anchor="middle">180</text>
<text transform="translate(1362.3,1234.9) scale(1,1.035)" text-anchor="middle">200</text>
<text transform="translate(1489.6,1234.9) scale(1,1.035)" text-anchor="middle">220</text>
<text transform="translate(1617.0,1234.9) scale(1,1.035)" text-anchor="middle">240</text>
<text transform="translate(178.6,45.3) scale(1,1.035)" text-anchor="end">0.0</text>
<text transform="translate(178.6,233.4) scale(1,1.035)" text-anchor="end">-0.1</text>
<text transform="translate(178.6,421.5) scale(1,1.035)" text-anchor="end">-0.2</text>
<text transform="translate(178.6,609.5) scale(1,1.035)" text-anchor="end">-0.3</text>
<text transform="translate(178.6,797.6) scale(1,1.035)" text-anchor="end">-0.4</text>
<text transform="translate(178.6,985.7) scale(1,1.035)" text-anchor="end">-0.5</text>
<text transform="translate(178.6,1173.8) scale(1,1.035)" text-anchor="end">-0.6</text>
</g>
<text x="915.5" y="1324.8" font-size="59.4" text-anchor="middle">Temperature [°C]</text>
<text transform="translate(51,594) rotate(-90)" font-size="58.9" text-anchor="middle">Heat flow [W/g]</text>
<text x="1592.5" y="95" font-size="58.9" text-anchor="end">2nd Heating, 20 K/min</text>
<g stroke-width="6.4" stroke-linecap="round" fill="none">
<path d="M230.5,713.0 H347.5" stroke="#ee0010"/>
<path d="M230.5,778.4 H347.5" stroke="#2f639f"/>
<path d="M230.5,843.8 H347.5" stroke="#ffc31d"/>
<path d="M230.5,909.2 H347.5" stroke="#3cc373"/>
<path d="M230.5,974.6 H347.5" stroke="#625f9e"/>
<path d="M230.5,1040.0 H347.5" stroke="#9a9a9a"/>
<path d="M230.5,1105.4 H347.5" stroke="#c96208"/>
</g>
<g font-size="52.9">
<text x="364.3" y="730.2">Pure EP</text>
<text x="364.3" y="795.6">Formulation A</text>
<text x="364.3" y="861.0">Formulation B</text>
<text x="364.3" y="926.4">Formulation C</text>
<text x="364.3" y="991.8">Formulation D</text>
<text x="364.3" y="1057.2">Formulation E</text>
<text x="364.3" y="1122.6">Formulation B* (without R974)</text>
</g>
</svg></body></html>
